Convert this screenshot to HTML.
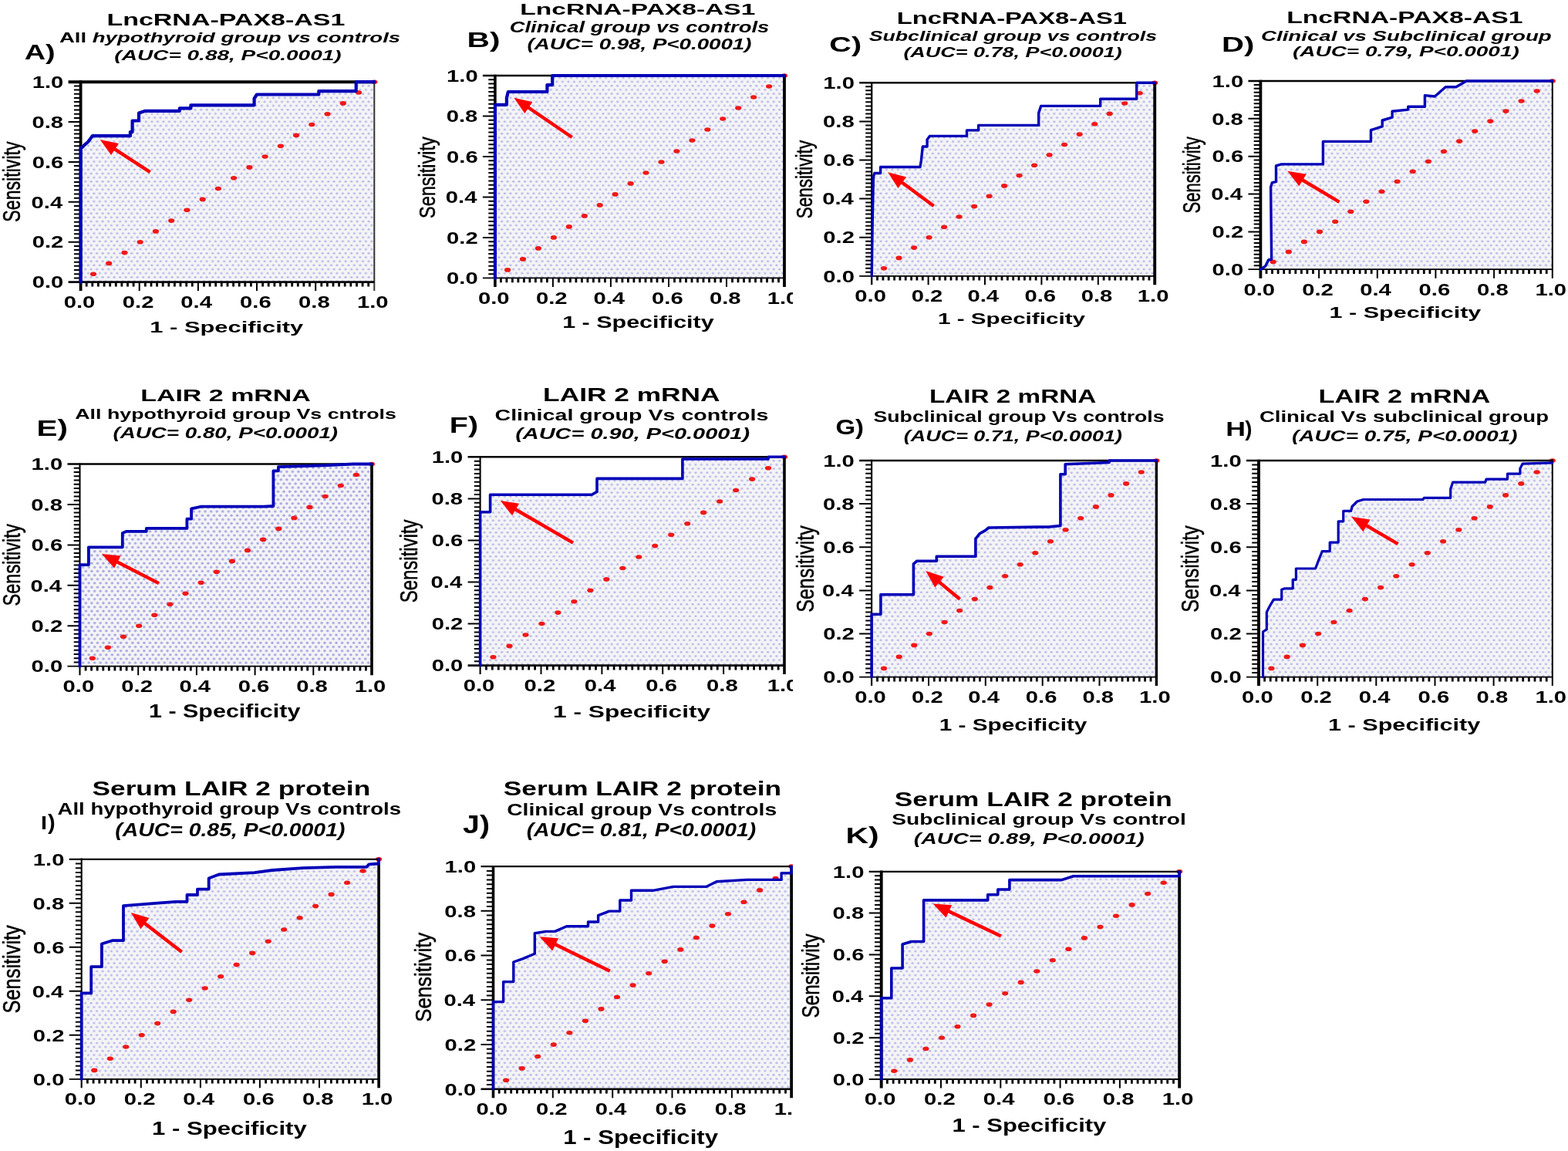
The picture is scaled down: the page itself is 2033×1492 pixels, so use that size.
<!DOCTYPE html>
<html><head><meta charset="utf-8"><title>ROC curves</title>
<style>html,body{margin:0;padding:0;background:#fff;}svg{display:block;}</style>
</head><body>
<svg xmlns="http://www.w3.org/2000/svg" width="2033" height="1492" viewBox="0 0 2033 1492" font-family="Liberation Sans, Arial, sans-serif">
<defs><pattern id="dots" patternUnits="userSpaceOnUse" width="7.5" height="10.34" x="0" y="0">
<rect width="7.5" height="10.34" fill="#f4f4f5"/>
<ellipse cx="1.9" cy="2.6" rx="1.6" ry="1.45" fill="#b9b9ee"/>
<ellipse cx="5.65" cy="7.77" rx="1.6" ry="1.45" fill="#b9b9ee"/>
</pattern>
<pattern id="dots2" patternUnits="userSpaceOnUse" width="7.55" height="10.32" x="0" y="0">
<rect width="7.55" height="10.32" fill="#f4f4f6"/>
<ellipse cx="1.9" cy="2.6" rx="1.75" ry="1.6" fill="#a6a6e4"/>
<ellipse cx="5.675" cy="7.76" rx="1.75" ry="1.6" fill="#a6a6e4"/>
</pattern></defs>
<rect width="2033" height="1492" fill="#fff"/>
<g><polygon points="104.6,365.6 104.6,191.8 107.3,190.5 109.5,187.9 114.1,184.0 119.8,176.2 168.9,176.2 168.9,171.1 171.6,171.1 171.6,156.5 180.0,156.5 180.0,146.4 188.4,143.8 232.9,143.8 232.9,140.4 247.4,140.4 247.4,136.3 329.6,136.3 329.6,127.7 333.0,122.5 413.3,122.5 413.3,118.1 461.7,118.1 461.7,106.2 485.3,106.2 485.3,365.6 104.6,365.6" fill="url(#dots)"/><ellipse cx="485.3" cy="106.2" rx="4.1" ry="2.8" fill="#f01818"/><ellipse cx="465.1" cy="120.0" rx="4.1" ry="2.8" fill="#f01818"/><ellipse cx="444.8" cy="133.9" rx="4.1" ry="2.8" fill="#f01818"/><ellipse cx="424.6" cy="147.7" rx="4.1" ry="2.8" fill="#f01818"/><ellipse cx="404.3" cy="161.5" rx="4.1" ry="2.8" fill="#f01818"/><ellipse cx="384.1" cy="175.4" rx="4.1" ry="2.8" fill="#f01818"/><ellipse cx="363.9" cy="189.2" rx="4.1" ry="2.8" fill="#f01818"/><ellipse cx="343.6" cy="203.0" rx="4.1" ry="2.8" fill="#f01818"/><ellipse cx="323.4" cy="216.9" rx="4.1" ry="2.8" fill="#f01818"/><ellipse cx="303.1" cy="230.7" rx="4.1" ry="2.8" fill="#f01818"/><ellipse cx="282.9" cy="244.5" rx="4.1" ry="2.8" fill="#f01818"/><ellipse cx="262.7" cy="258.4" rx="4.1" ry="2.8" fill="#f01818"/><ellipse cx="242.4" cy="272.2" rx="4.1" ry="2.8" fill="#f01818"/><ellipse cx="222.2" cy="286.1" rx="4.1" ry="2.8" fill="#f01818"/><ellipse cx="201.9" cy="299.9" rx="4.1" ry="2.8" fill="#f01818"/><ellipse cx="181.7" cy="313.7" rx="4.1" ry="2.8" fill="#f01818"/><ellipse cx="161.5" cy="327.6" rx="4.1" ry="2.8" fill="#f01818"/><ellipse cx="141.2" cy="341.4" rx="4.1" ry="2.8" fill="#f01818"/><ellipse cx="121.0" cy="355.2" rx="4.1" ry="2.8" fill="#f01818"/><line x1="88.6" y1="106.2" x2="486.3" y2="106.2" stroke="#000" stroke-width="4.0"/><line x1="485.3" y1="104.2" x2="485.3" y2="377.1" stroke="#333" stroke-width="2.0"/><line x1="104.6" y1="104.2" x2="104.6" y2="377.1" stroke="#000" stroke-width="3.8"/><line x1="88.6" y1="365.6" x2="485.3" y2="365.6" stroke="#000" stroke-width="2.6"/><path d="M104.6 360.4H95.9M104.6 355.2H95.9M104.6 350.0H95.9M104.6 344.8H95.9M104.6 339.7H95.9M104.6 334.5H95.9M104.6 329.3H95.9M104.6 324.1H95.9M104.6 318.9H95.9M104.6 308.5H95.9M104.6 303.3H95.9M104.6 298.2H95.9M104.6 293.0H95.9M104.6 287.8H95.9M104.6 282.6H95.9M104.6 277.4H95.9M104.6 272.2H95.9M104.6 267.0H95.9M104.6 256.7H95.9M104.6 251.5H95.9M104.6 246.3H95.9M104.6 241.1H95.9M104.6 235.9H95.9M104.6 230.7H95.9M104.6 225.5H95.9M104.6 220.3H95.9M104.6 215.1H95.9M104.6 204.8H95.9M104.6 199.6H95.9M104.6 194.4H95.9M104.6 189.2H95.9M104.6 184.0H95.9M104.6 178.8H95.9M104.6 173.6H95.9M104.6 168.5H95.9M104.6 163.3H95.9M104.6 152.9H95.9M104.6 147.7H95.9M104.6 142.5H95.9M104.6 137.3H95.9M104.6 132.1H95.9M104.6 127.0H95.9M104.6 121.8H95.9M104.6 116.6H95.9M104.6 111.4H95.9M104.6 313.7H88.6M180.7 365.6V377.1M104.6 261.8H88.6M256.9 365.6V377.1M104.6 210.0H88.6M333.0 365.6V377.1M104.6 158.1H88.6M409.2 365.6V377.1" stroke="#000" stroke-width="2.0" fill="none"/><path d="M112.2 365.6V371.4M119.8 365.6V371.4M127.4 365.6V371.4M135.1 365.6V371.4M142.7 365.6V371.4M150.3 365.6V371.4M157.9 365.6V371.4M165.5 365.6V371.4M173.1 365.6V371.4M188.4 365.6V371.4M196.0 365.6V371.4M203.6 365.6V371.4M211.2 365.6V371.4M218.8 365.6V371.4M226.4 365.6V371.4M234.0 365.6V371.4M241.7 365.6V371.4M249.3 365.6V371.4M264.5 365.6V371.4M272.1 365.6V371.4M279.7 365.6V371.4M287.3 365.6V371.4M295.0 365.6V371.4M302.6 365.6V371.4M310.2 365.6V371.4M317.8 365.6V371.4M325.4 365.6V371.4M340.6 365.6V371.4M348.2 365.6V371.4M355.9 365.6V371.4M363.5 365.6V371.4M371.1 365.6V371.4M378.7 365.6V371.4M386.3 365.6V371.4M393.9 365.6V371.4M401.5 365.6V371.4M416.8 365.6V371.4M424.4 365.6V371.4M432.0 365.6V371.4M439.6 365.6V371.4M447.2 365.6V371.4M454.8 365.6V371.4M462.5 365.6V371.4M470.1 365.6V371.4M477.7 365.6V371.4" stroke="#000" stroke-width="2.8" fill="none"/><polyline points="104.6,365.6 104.6,191.8 107.3,190.5 109.5,187.9 114.1,184.0 119.8,176.2 168.9,176.2 168.9,171.1 171.6,171.1 171.6,156.5 180.0,156.5 180.0,146.4 188.4,143.8 232.9,143.8 232.9,140.4 247.4,140.4 247.4,136.3 329.6,136.3 329.6,127.7 333.0,122.5 413.3,122.5 413.3,118.1 461.7,118.1 461.7,106.2 485.3,106.2" fill="none" stroke="#0000b8" stroke-width="4.2" stroke-linejoin="round" stroke-linecap="round"/><line x1="194.6" y1="223.2" x2="147.3" y2="192.4" stroke="#ff0000" stroke-width="4.4"/><polygon points="129.7,181.0 153.9,186.0 144.1,201.1" fill="#ff0000"/><text transform="translate(41.71 373.32) scale(1.3600 1)" font-size="21.50" font-weight="bold">0.0</text><text transform="translate(82.67 399.05) scale(1.3600 1)" font-size="21.50" font-weight="bold">0.0</text><text transform="translate(41.71 321.44) scale(1.3600 1)" font-size="21.50" font-weight="bold">0.2</text><text transform="translate(158.81 399.05) scale(1.3600 1)" font-size="21.50" font-weight="bold">0.2</text><text transform="translate(40.54 269.56) scale(1.3600 1)" font-size="21.50" font-weight="bold">0.4</text><text transform="translate(234.36 399.05) scale(1.3600 1)" font-size="21.50" font-weight="bold">0.4</text><text transform="translate(41.71 217.69) scale(1.3600 1)" font-size="21.50" font-weight="bold">0.6</text><text transform="translate(311.09 399.05) scale(1.3600 1)" font-size="21.50" font-weight="bold">0.6</text><text transform="translate(41.42 165.80) scale(1.3600 1)" font-size="21.50" font-weight="bold">0.8</text><text transform="translate(387.08 399.05) scale(1.3600 1)" font-size="21.50" font-weight="bold">0.8</text><text transform="translate(41.71 113.92) scale(1.3600 1)" font-size="21.50" font-weight="bold">1.0</text><text transform="translate(462.93 399.05) scale(1.3600 1)" font-size="21.50" font-weight="bold">1.0</text><text transform="translate(138.46 32.50) scale(1.5987 1)" font-size="21.25"><tspan font-weight="bold" font-style="normal">LncRNA-PAX8-AS1</tspan></text><text transform="translate(76.95 54.90) scale(1.4807 1)" font-size="18.61"><tspan font-weight="bold" font-style="normal">All </tspan><tspan font-weight="bold" font-style="italic">hypothyroid group vs controls</tspan></text><text transform="translate(148.36 78.30) scale(1.4615 1)" font-size="19.17"><tspan font-weight="bold" font-style="italic">(AUC= 0.88, P&lt;0.0001)</tspan></text><text transform="translate(31.74 77.30) scale(1.4100 1)" font-size="26.81"><tspan font-weight="bold" font-style="normal">A)</tspan></text><text transform="translate(26.20 287.63) rotate(-90) scale(0.7479 1)" font-size="30.96" font-weight="normal" stroke="#000" stroke-width="0.55">Sensitivity</text><text transform="translate(194.35 430.60) scale(1.5217 1)" font-size="20.28"><tspan font-weight="bold" font-style="normal">1 - Specificity</tspan></text></g>
<g><polygon points="641.9,360.4 641.9,135.8 656.9,135.8 656.9,126.9 658.8,119.0 709.4,119.0 709.4,110.1 716.2,110.1 716.2,98.0 1017.0,98.0 1017.0,360.4 641.9,360.4" fill="url(#dots)"/><ellipse cx="1017.0" cy="98.0" rx="4.1" ry="2.8" fill="#f01818"/><ellipse cx="997.1" cy="112.0" rx="4.1" ry="2.8" fill="#f01818"/><ellipse cx="977.1" cy="126.0" rx="4.1" ry="2.8" fill="#f01818"/><ellipse cx="957.2" cy="140.0" rx="4.1" ry="2.8" fill="#f01818"/><ellipse cx="937.2" cy="154.0" rx="4.1" ry="2.8" fill="#f01818"/><ellipse cx="917.3" cy="168.0" rx="4.1" ry="2.8" fill="#f01818"/><ellipse cx="897.4" cy="182.0" rx="4.1" ry="2.8" fill="#f01818"/><ellipse cx="877.4" cy="196.0" rx="4.1" ry="2.8" fill="#f01818"/><ellipse cx="857.5" cy="210.0" rx="4.1" ry="2.8" fill="#f01818"/><ellipse cx="837.5" cy="224.0" rx="4.1" ry="2.8" fill="#f01818"/><ellipse cx="817.6" cy="237.9" rx="4.1" ry="2.8" fill="#f01818"/><ellipse cx="797.6" cy="251.9" rx="4.1" ry="2.8" fill="#f01818"/><ellipse cx="777.7" cy="265.9" rx="4.1" ry="2.8" fill="#f01818"/><ellipse cx="757.8" cy="279.9" rx="4.1" ry="2.8" fill="#f01818"/><ellipse cx="737.8" cy="293.9" rx="4.1" ry="2.8" fill="#f01818"/><ellipse cx="717.9" cy="307.9" rx="4.1" ry="2.8" fill="#f01818"/><ellipse cx="697.9" cy="321.9" rx="4.1" ry="2.8" fill="#f01818"/><ellipse cx="678.0" cy="335.9" rx="4.1" ry="2.8" fill="#f01818"/><ellipse cx="658.1" cy="349.9" rx="4.1" ry="2.8" fill="#f01818"/><line x1="625.9" y1="98.0" x2="1018.9" y2="98.0" stroke="#000" stroke-width="2.3"/><line x1="1017.0" y1="96.8" x2="1017.0" y2="371.9" stroke="#000" stroke-width="3.8"/><line x1="641.9" y1="96.8" x2="641.9" y2="371.9" stroke="#000" stroke-width="3.6"/><line x1="625.9" y1="360.4" x2="1017.0" y2="360.4" stroke="#000" stroke-width="1.8"/><path d="M641.9 355.2H633.3M641.9 349.9H633.3M641.9 344.7H633.3M641.9 339.4H633.3M641.9 334.2H633.3M641.9 328.9H633.3M641.9 323.7H633.3M641.9 318.4H633.3M641.9 313.2H633.3M641.9 302.7H633.3M641.9 297.4H633.3M641.9 292.2H633.3M641.9 286.9H633.3M641.9 281.7H633.3M641.9 276.4H633.3M641.9 271.2H633.3M641.9 265.9H633.3M641.9 260.7H633.3M641.9 250.2H633.3M641.9 244.9H633.3M641.9 239.7H633.3M641.9 234.4H633.3M641.9 229.2H633.3M641.9 224.0H633.3M641.9 218.7H633.3M641.9 213.5H633.3M641.9 208.2H633.3M641.9 197.7H633.3M641.9 192.5H633.3M641.9 187.2H633.3M641.9 182.0H633.3M641.9 176.7H633.3M641.9 171.5H633.3M641.9 166.2H633.3M641.9 161.0H633.3M641.9 155.7H633.3M641.9 145.2H633.3M641.9 140.0H633.3M641.9 134.7H633.3M641.9 129.5H633.3M641.9 124.2H633.3M641.9 119.0H633.3M641.9 113.7H633.3M641.9 108.5H633.3M641.9 103.2H633.3M641.9 307.9H625.9M716.9 360.4V371.9M641.9 255.4H625.9M791.9 360.4V371.9M641.9 203.0H625.9M867.0 360.4V371.9M641.9 150.5H625.9M942.0 360.4V371.9" stroke="#000" stroke-width="2.0" fill="none"/><path d="M649.4 360.4V366.2M656.9 360.4V366.2M664.4 360.4V366.2M671.9 360.4V366.2M679.4 360.4V366.2M686.9 360.4V366.2M694.4 360.4V366.2M701.9 360.4V366.2M709.4 360.4V366.2M724.4 360.4V366.2M731.9 360.4V366.2M739.4 360.4V366.2M746.9 360.4V366.2M754.4 360.4V366.2M761.9 360.4V366.2M769.4 360.4V366.2M776.9 360.4V366.2M784.4 360.4V366.2M799.4 360.4V366.2M806.9 360.4V366.2M814.4 360.4V366.2M821.9 360.4V366.2M829.5 360.4V366.2M837.0 360.4V366.2M844.5 360.4V366.2M852.0 360.4V366.2M859.5 360.4V366.2M874.5 360.4V366.2M882.0 360.4V366.2M889.5 360.4V366.2M897.0 360.4V366.2M904.5 360.4V366.2M912.0 360.4V366.2M919.5 360.4V366.2M927.0 360.4V366.2M934.5 360.4V366.2M949.5 360.4V366.2M957.0 360.4V366.2M964.5 360.4V366.2M972.0 360.4V366.2M979.5 360.4V366.2M987.0 360.4V366.2M994.5 360.4V366.2M1002.0 360.4V366.2M1009.5 360.4V366.2" stroke="#000" stroke-width="2.8" fill="none"/><polyline points="641.9,360.4 641.9,135.8 656.9,135.8 656.9,126.9 658.8,119.0 709.4,119.0 709.4,110.1 716.2,110.1 716.2,98.0 1017.0,98.0" fill="none" stroke="#0000b8" stroke-width="4.2" stroke-linejoin="round" stroke-linecap="round"/><line x1="741.7" y1="178.0" x2="683.7" y2="138.5" stroke="#ff0000" stroke-width="4.4"/><polygon points="666.3,126.7 690.4,132.2 680.3,147.1" fill="#ff0000"/><text transform="translate(579.01 368.12) scale(1.3600 1)" font-size="21.50" font-weight="bold">0.0</text><text transform="translate(619.97 393.85) scale(1.3600 1)" font-size="21.50" font-weight="bold">0.0</text><text transform="translate(579.01 315.64) scale(1.3600 1)" font-size="21.50" font-weight="bold">0.2</text><text transform="translate(694.99 393.85) scale(1.3600 1)" font-size="21.50" font-weight="bold">0.2</text><text transform="translate(577.84 263.16) scale(1.3600 1)" font-size="21.50" font-weight="bold">0.4</text><text transform="translate(769.42 393.85) scale(1.3600 1)" font-size="21.50" font-weight="bold">0.4</text><text transform="translate(579.01 210.69) scale(1.3600 1)" font-size="21.50" font-weight="bold">0.6</text><text transform="translate(845.03 393.85) scale(1.3600 1)" font-size="21.50" font-weight="bold">0.6</text><text transform="translate(578.72 158.20) scale(1.3600 1)" font-size="21.50" font-weight="bold">0.8</text><text transform="translate(919.90 393.85) scale(1.3600 1)" font-size="21.50" font-weight="bold">0.8</text><text transform="translate(579.01 105.73) scale(1.3600 1)" font-size="21.50" font-weight="bold">1.0</text><text transform="translate(994.63 393.85) scale(1.3600 1)" font-size="21.50" font-weight="bold">1.0</text><text transform="translate(674.29 19.10) scale(1.6432 1)" font-size="20.42"><tspan font-weight="bold" font-style="normal">LncRNA-PAX8-AS1</tspan></text><text transform="translate(660.70 42.30) scale(1.4199 1)" font-size="19.31"><tspan font-weight="bold" font-style="italic">Clinical group vs controls</tspan></text><text transform="translate(683.57 64.00) scale(1.4048 1)" font-size="19.72"><tspan font-weight="bold" font-style="italic">(AUC= 0.98, P&lt;0.0001)</tspan></text><text transform="translate(605.56 60.50) scale(1.4382 1)" font-size="28.33"><tspan font-weight="bold" font-style="normal">B)</tspan></text><text transform="translate(563.50 283.04) rotate(-90) scale(0.7855 1)" font-size="29.93" font-weight="normal" stroke="#000" stroke-width="0.55">Sensitivity</text><text transform="translate(729.17 425.20) scale(1.3817 1)" font-size="22.08"><tspan font-weight="bold" font-style="normal">1 - Specificity</tspan></text></g>
<rect x="1028" y="0" width="512" height="470" fill="#fff"/>
<g><polygon points="1130.2,357.8 1131.3,282.7 1132.4,229.0 1133.9,224.5 1141.6,224.5 1141.6,216.5 1193.0,216.5 1194.4,208.0 1196.3,190.0 1202.1,190.0 1202.1,180.9 1205.4,176.4 1253.5,176.4 1253.5,168.9 1268.6,168.9 1268.6,162.4 1346.7,162.4 1346.7,146.4 1349.7,137.4 1426.7,137.4 1426.7,128.3 1473.7,128.3 1473.7,107.3 1497.2,107.3 1497.2,357.8 1130.2,357.8" fill="url(#dots)"/><ellipse cx="1497.2" cy="107.3" rx="4.1" ry="2.8" fill="#f01818"/><ellipse cx="1477.7" cy="120.7" rx="4.1" ry="2.8" fill="#f01818"/><ellipse cx="1458.2" cy="134.0" rx="4.1" ry="2.8" fill="#f01818"/><ellipse cx="1438.7" cy="147.4" rx="4.1" ry="2.8" fill="#f01818"/><ellipse cx="1419.2" cy="160.7" rx="4.1" ry="2.8" fill="#f01818"/><ellipse cx="1399.7" cy="174.1" rx="4.1" ry="2.8" fill="#f01818"/><ellipse cx="1380.1" cy="187.5" rx="4.1" ry="2.8" fill="#f01818"/><ellipse cx="1360.6" cy="200.8" rx="4.1" ry="2.8" fill="#f01818"/><ellipse cx="1341.1" cy="214.2" rx="4.1" ry="2.8" fill="#f01818"/><ellipse cx="1321.6" cy="227.5" rx="4.1" ry="2.8" fill="#f01818"/><ellipse cx="1302.1" cy="240.9" rx="4.1" ry="2.8" fill="#f01818"/><ellipse cx="1282.6" cy="254.3" rx="4.1" ry="2.8" fill="#f01818"/><ellipse cx="1263.1" cy="267.6" rx="4.1" ry="2.8" fill="#f01818"/><ellipse cx="1243.6" cy="281.0" rx="4.1" ry="2.8" fill="#f01818"/><ellipse cx="1224.1" cy="294.3" rx="4.1" ry="2.8" fill="#f01818"/><ellipse cx="1204.6" cy="307.7" rx="4.1" ry="2.8" fill="#f01818"/><ellipse cx="1185.1" cy="321.1" rx="4.1" ry="2.8" fill="#f01818"/><ellipse cx="1165.5" cy="334.4" rx="4.1" ry="2.8" fill="#f01818"/><ellipse cx="1146.0" cy="347.8" rx="4.1" ry="2.8" fill="#f01818"/><line x1="1114.2" y1="107.3" x2="1499.2" y2="107.3" stroke="#000" stroke-width="2.5"/><line x1="1497.2" y1="106.0" x2="1497.2" y2="369.3" stroke="#000" stroke-width="3.9"/><line x1="1130.2" y1="106.0" x2="1130.2" y2="369.3" stroke="#000" stroke-width="2.3"/><line x1="1114.2" y1="357.8" x2="1497.2" y2="357.8" stroke="#000" stroke-width="1.8"/><path d="M1130.2 352.8H1122.2M1130.2 347.8H1122.2M1130.2 342.8H1122.2M1130.2 337.8H1122.2M1130.2 332.8H1122.2M1130.2 327.7H1122.2M1130.2 322.7H1122.2M1130.2 317.7H1122.2M1130.2 312.7H1122.2M1130.2 302.7H1122.2M1130.2 297.7H1122.2M1130.2 292.7H1122.2M1130.2 287.7H1122.2M1130.2 282.7H1122.2M1130.2 277.6H1122.2M1130.2 272.6H1122.2M1130.2 267.6H1122.2M1130.2 262.6H1122.2M1130.2 252.6H1122.2M1130.2 247.6H1122.2M1130.2 242.6H1122.2M1130.2 237.6H1122.2M1130.2 232.6H1122.2M1130.2 227.5H1122.2M1130.2 222.5H1122.2M1130.2 217.5H1122.2M1130.2 212.5H1122.2M1130.2 202.5H1122.2M1130.2 197.5H1122.2M1130.2 192.5H1122.2M1130.2 187.5H1122.2M1130.2 182.5H1122.2M1130.2 177.4H1122.2M1130.2 172.4H1122.2M1130.2 167.4H1122.2M1130.2 162.4H1122.2M1130.2 152.4H1122.2M1130.2 147.4H1122.2M1130.2 142.4H1122.2M1130.2 137.4H1122.2M1130.2 132.3H1122.2M1130.2 127.3H1122.2M1130.2 122.3H1122.2M1130.2 117.3H1122.2M1130.2 112.3H1122.2M1130.2 307.7H1114.2M1203.6 357.8V369.3M1130.2 257.6H1114.2M1277.0 357.8V369.3M1130.2 207.5H1114.2M1350.4 357.8V369.3M1130.2 157.4H1114.2M1423.8 357.8V369.3" stroke="#000" stroke-width="2.0" fill="none"/><path d="M1137.5 357.8V363.6M1144.9 357.8V363.6M1152.2 357.8V363.6M1159.6 357.8V363.6M1166.9 357.8V363.6M1174.2 357.8V363.6M1181.6 357.8V363.6M1188.9 357.8V363.6M1196.3 357.8V363.6M1210.9 357.8V363.6M1218.3 357.8V363.6M1225.6 357.8V363.6M1233.0 357.8V363.6M1240.3 357.8V363.6M1247.6 357.8V363.6M1255.0 357.8V363.6M1262.3 357.8V363.6M1269.7 357.8V363.6M1284.3 357.8V363.6M1291.7 357.8V363.6M1299.0 357.8V363.6M1306.4 357.8V363.6M1313.7 357.8V363.6M1321.0 357.8V363.6M1328.4 357.8V363.6M1335.7 357.8V363.6M1343.1 357.8V363.6M1357.7 357.8V363.6M1365.1 357.8V363.6M1372.4 357.8V363.6M1379.8 357.8V363.6M1387.1 357.8V363.6M1394.4 357.8V363.6M1401.8 357.8V363.6M1409.1 357.8V363.6M1416.5 357.8V363.6M1431.1 357.8V363.6M1438.5 357.8V363.6M1445.8 357.8V363.6M1453.2 357.8V363.6M1460.5 357.8V363.6M1467.8 357.8V363.6M1475.2 357.8V363.6M1482.5 357.8V363.6M1489.9 357.8V363.6" stroke="#000" stroke-width="2.8" fill="none"/><polyline points="1130.2,357.8 1131.3,282.7 1132.4,229.0 1133.9,224.5 1141.6,224.5 1141.6,216.5 1193.0,216.5 1194.4,208.0 1196.3,190.0 1202.1,190.0 1202.1,180.9 1205.4,176.4 1253.5,176.4 1253.5,168.9 1268.6,168.9 1268.6,162.4 1346.7,162.4 1346.7,146.4 1349.7,137.4 1426.7,137.4 1426.7,128.3 1473.7,128.3 1473.7,107.3 1497.2,107.3" fill="none" stroke="#0000b8" stroke-width="3.4" stroke-linejoin="round" stroke-linecap="round"/><line x1="1210.6" y1="266.9" x2="1168.1" y2="235.6" stroke="#ff0000" stroke-width="4.4"/><polygon points="1151.2,223.2 1175.1,229.6 1164.4,244.1" fill="#ff0000"/><text transform="translate(1067.31 365.52) scale(1.3600 1)" font-size="21.50" font-weight="bold">0.0</text><text transform="translate(1108.27 391.25) scale(1.3600 1)" font-size="21.50" font-weight="bold">0.0</text><text transform="translate(1067.31 315.42) scale(1.3600 1)" font-size="21.50" font-weight="bold">0.2</text><text transform="translate(1181.67 391.25) scale(1.3600 1)" font-size="21.50" font-weight="bold">0.2</text><text transform="translate(1066.14 265.32) scale(1.3600 1)" font-size="21.50" font-weight="bold">0.4</text><text transform="translate(1254.48 391.25) scale(1.3600 1)" font-size="21.50" font-weight="bold">0.4</text><text transform="translate(1067.31 215.23) scale(1.3600 1)" font-size="21.50" font-weight="bold">0.6</text><text transform="translate(1328.47 391.25) scale(1.3600 1)" font-size="21.50" font-weight="bold">0.6</text><text transform="translate(1067.02 165.12) scale(1.3600 1)" font-size="21.50" font-weight="bold">0.8</text><text transform="translate(1401.72 391.25) scale(1.3600 1)" font-size="21.50" font-weight="bold">0.8</text><text transform="translate(1067.31 115.03) scale(1.3600 1)" font-size="21.50" font-weight="bold">1.0</text><text transform="translate(1474.83 391.25) scale(1.3600 1)" font-size="21.50" font-weight="bold">1.0</text><text transform="translate(1162.73 31.00) scale(1.4768 1)" font-size="22.22"><tspan font-weight="bold" font-style="normal">LncRNA-PAX8-AS1</tspan></text><text transform="translate(1126.73 53.20) scale(1.4772 1)" font-size="18.06"><tspan font-weight="bold" font-style="italic">Subclinical group vs controls</tspan></text><text transform="translate(1171.39 74.30) scale(1.4501 1)" font-size="18.61"><tspan font-weight="bold" font-style="italic">(AUC= 0.78, P&lt;0.0001)</tspan></text><text transform="translate(1075.32 66.60) scale(1.4548 1)" font-size="27.22"><tspan font-weight="bold" font-style="normal">C)</tspan></text><text transform="translate(1053.10 283.20) rotate(-90) scale(0.7684 1)" font-size="29.32" font-weight="normal" stroke="#000" stroke-width="0.55">Sensitivity</text><text transform="translate(1216.02 420.20) scale(1.4819 1)" font-size="20.00"><tspan font-weight="bold" font-style="normal">1 - Specificity</tspan></text></g>
<g><polygon points="1634.4,349.2 1640.8,344.8 1644.6,337.0 1648.6,336.0 1647.6,242.5 1649.5,236.6 1654.5,235.6 1654.5,214.9 1661.3,212.9 1715.4,212.9 1715.4,183.4 1777.4,183.4 1777.4,168.7 1792.2,163.9 1792.2,156.0 1805.1,152.1 1805.1,144.3 1825.7,142.1 1825.7,138.2 1847.4,138.2 1847.4,123.6 1860.3,125.0 1874.3,112.8 1887.9,112.8 1901.2,105.0 2012.8,105.0 2012.8,349.2 1634.4,349.2" fill="url(#dots)"/><ellipse cx="2012.8" cy="105.0" rx="4.1" ry="2.8" fill="#f01818"/><ellipse cx="1992.7" cy="118.0" rx="4.1" ry="2.8" fill="#f01818"/><ellipse cx="1972.6" cy="131.0" rx="4.1" ry="2.8" fill="#f01818"/><ellipse cx="1952.4" cy="144.1" rx="4.1" ry="2.8" fill="#f01818"/><ellipse cx="1932.3" cy="157.1" rx="4.1" ry="2.8" fill="#f01818"/><ellipse cx="1912.2" cy="170.1" rx="4.1" ry="2.8" fill="#f01818"/><ellipse cx="1892.1" cy="183.1" rx="4.1" ry="2.8" fill="#f01818"/><ellipse cx="1872.0" cy="196.2" rx="4.1" ry="2.8" fill="#f01818"/><ellipse cx="1851.9" cy="209.2" rx="4.1" ry="2.8" fill="#f01818"/><ellipse cx="1831.7" cy="222.2" rx="4.1" ry="2.8" fill="#f01818"/><ellipse cx="1811.6" cy="235.2" rx="4.1" ry="2.8" fill="#f01818"/><ellipse cx="1791.5" cy="248.3" rx="4.1" ry="2.8" fill="#f01818"/><ellipse cx="1771.4" cy="261.3" rx="4.1" ry="2.8" fill="#f01818"/><ellipse cx="1751.3" cy="274.3" rx="4.1" ry="2.8" fill="#f01818"/><ellipse cx="1731.2" cy="287.3" rx="4.1" ry="2.8" fill="#f01818"/><ellipse cx="1711.0" cy="300.4" rx="4.1" ry="2.8" fill="#f01818"/><ellipse cx="1690.9" cy="313.4" rx="4.1" ry="2.8" fill="#f01818"/><ellipse cx="1670.8" cy="326.4" rx="4.1" ry="2.8" fill="#f01818"/><ellipse cx="1650.7" cy="339.4" rx="4.1" ry="2.8" fill="#f01818"/><line x1="1618.4" y1="105.0" x2="2013.8" y2="105.0" stroke="#000" stroke-width="2.5"/><line x1="2012.8" y1="103.8" x2="2012.8" y2="360.7" stroke="#000" stroke-width="2.0"/><line x1="1634.4" y1="103.8" x2="1634.4" y2="360.7" stroke="#000" stroke-width="3.8"/><line x1="1618.4" y1="349.2" x2="2012.8" y2="349.2" stroke="#000" stroke-width="1.8"/><path d="M1634.4 344.3H1625.7M1634.4 339.4H1625.7M1634.4 334.5H1625.7M1634.4 329.7H1625.7M1634.4 324.8H1625.7M1634.4 319.9H1625.7M1634.4 315.0H1625.7M1634.4 310.1H1625.7M1634.4 305.2H1625.7M1634.4 295.5H1625.7M1634.4 290.6H1625.7M1634.4 285.7H1625.7M1634.4 280.8H1625.7M1634.4 275.9H1625.7M1634.4 271.1H1625.7M1634.4 266.2H1625.7M1634.4 261.3H1625.7M1634.4 256.4H1625.7M1634.4 246.6H1625.7M1634.4 241.8H1625.7M1634.4 236.9H1625.7M1634.4 232.0H1625.7M1634.4 227.1H1625.7M1634.4 222.2H1625.7M1634.4 217.3H1625.7M1634.4 212.4H1625.7M1634.4 207.6H1625.7M1634.4 197.8H1625.7M1634.4 192.9H1625.7M1634.4 188.0H1625.7M1634.4 183.1H1625.7M1634.4 178.3H1625.7M1634.4 173.4H1625.7M1634.4 168.5H1625.7M1634.4 163.6H1625.7M1634.4 158.7H1625.7M1634.4 149.0H1625.7M1634.4 144.1H1625.7M1634.4 139.2H1625.7M1634.4 134.3H1625.7M1634.4 129.4H1625.7M1634.4 124.5H1625.7M1634.4 119.7H1625.7M1634.4 114.8H1625.7M1634.4 109.9H1625.7M1634.4 300.4H1618.4M1710.1 349.2V360.7M1634.4 251.5H1618.4M1785.8 349.2V360.7M1634.4 202.7H1618.4M1861.4 349.2V360.7M1634.4 153.8H1618.4M1937.1 349.2V360.7" stroke="#000" stroke-width="2.0" fill="none"/><path d="M1642.0 349.2V355.0M1649.5 349.2V355.0M1657.1 349.2V355.0M1664.7 349.2V355.0M1672.2 349.2V355.0M1679.8 349.2V355.0M1687.4 349.2V355.0M1694.9 349.2V355.0M1702.5 349.2V355.0M1717.6 349.2V355.0M1725.2 349.2V355.0M1732.8 349.2V355.0M1740.4 349.2V355.0M1747.9 349.2V355.0M1755.5 349.2V355.0M1763.1 349.2V355.0M1770.6 349.2V355.0M1778.2 349.2V355.0M1793.3 349.2V355.0M1800.9 349.2V355.0M1808.5 349.2V355.0M1816.0 349.2V355.0M1823.6 349.2V355.0M1831.2 349.2V355.0M1838.7 349.2V355.0M1846.3 349.2V355.0M1853.9 349.2V355.0M1869.0 349.2V355.0M1876.6 349.2V355.0M1884.1 349.2V355.0M1891.7 349.2V355.0M1899.3 349.2V355.0M1906.8 349.2V355.0M1914.4 349.2V355.0M1922.0 349.2V355.0M1929.6 349.2V355.0M1944.7 349.2V355.0M1952.3 349.2V355.0M1959.8 349.2V355.0M1967.4 349.2V355.0M1975.0 349.2V355.0M1982.5 349.2V355.0M1990.1 349.2V355.0M1997.7 349.2V355.0M2005.2 349.2V355.0" stroke="#000" stroke-width="2.8" fill="none"/><polyline points="1634.4,349.2 1640.8,344.8 1644.6,337.0 1648.6,336.0 1647.6,242.5 1649.5,236.6 1654.5,235.6 1654.5,214.9 1661.3,212.9 1715.4,212.9 1715.4,183.4 1777.4,183.4 1777.4,168.7 1792.2,163.9 1792.2,156.0 1805.1,152.1 1805.1,144.3 1825.7,142.1 1825.7,138.2 1847.4,138.2 1847.4,123.6 1860.3,125.0 1874.3,112.8 1887.9,112.8 1901.2,105.0 2012.8,105.0" fill="none" stroke="#0000b8" stroke-width="3.4" stroke-linejoin="round" stroke-linecap="round"/><line x1="1736.5" y1="261.8" x2="1687.3" y2="232.5" stroke="#ff0000" stroke-width="4.4"/><polygon points="1669.3,221.7 1693.7,225.8 1684.4,241.2" fill="#ff0000"/><text transform="translate(1571.51 356.92) scale(1.3600 1)" font-size="21.50" font-weight="bold">0.0</text><text transform="translate(1612.47 382.65) scale(1.3600 1)" font-size="21.50" font-weight="bold">0.0</text><text transform="translate(1571.51 308.08) scale(1.3600 1)" font-size="21.50" font-weight="bold">0.2</text><text transform="translate(1688.15 382.65) scale(1.3600 1)" font-size="21.50" font-weight="bold">0.2</text><text transform="translate(1570.34 259.24) scale(1.3600 1)" font-size="21.50" font-weight="bold">0.4</text><text transform="translate(1763.24 382.65) scale(1.3600 1)" font-size="21.50" font-weight="bold">0.4</text><text transform="translate(1571.51 210.41) scale(1.3600 1)" font-size="21.50" font-weight="bold">0.6</text><text transform="translate(1839.51 382.65) scale(1.3600 1)" font-size="21.50" font-weight="bold">0.6</text><text transform="translate(1571.22 161.56) scale(1.3600 1)" font-size="21.50" font-weight="bold">0.8</text><text transform="translate(1915.04 382.65) scale(1.3600 1)" font-size="21.50" font-weight="bold">0.8</text><text transform="translate(1571.51 112.73) scale(1.3600 1)" font-size="21.50" font-weight="bold">1.0</text><text transform="translate(1990.43 382.65) scale(1.3600 1)" font-size="21.50" font-weight="bold">1.0</text><text transform="translate(1668.18 30.10) scale(1.5359 1)" font-size="21.94"><tspan font-weight="bold" font-style="normal">LncRNA-PAX8-AS1</tspan></text><text transform="translate(1634.99 52.60) scale(1.5693 1)" font-size="17.64"><tspan font-weight="bold" font-style="italic">Clinical vs Subclinical group</tspan></text><text transform="translate(1675.96 72.50) scale(1.5864 1)" font-size="17.64"><tspan font-weight="bold" font-style="italic">(AUC= 0.79, P&lt;0.0001)</tspan></text><text transform="translate(1583.99 67.20) scale(1.4515 1)" font-size="27.64"><tspan font-weight="bold" font-style="normal">D)</tspan></text><text transform="translate(1555.90 276.58) rotate(-90) scale(0.7131 1)" font-size="30.96" font-weight="normal" stroke="#000" stroke-width="0.55">Sensitivity</text><text transform="translate(1723.57 411.60) scale(1.4661 1)" font-size="20.83"><tspan font-weight="bold" font-style="normal">1 - Specificity</tspan></text></g>
<g><polygon points="103.5,863.7 103.5,732.1 114.9,732.1 114.9,709.3 158.8,709.3 158.8,690.9 164.1,688.8 189.8,688.8 189.8,684.9 242.4,684.9 242.4,672.6 248.1,672.6 248.1,659.4 261.0,656.6 342.0,656.6 354.4,656.0 354.4,610.4 360.9,610.4 360.9,605.2 419.2,603.3 457.8,601.5 482.0,601.5 482.0,863.7 103.5,863.7" fill="url(#dots2)"/><ellipse cx="482.0" cy="601.5" rx="4.1" ry="2.8" fill="#f01818"/><ellipse cx="461.9" cy="615.5" rx="4.1" ry="2.8" fill="#f01818"/><ellipse cx="441.8" cy="629.5" rx="4.1" ry="2.8" fill="#f01818"/><ellipse cx="421.6" cy="643.5" rx="4.1" ry="2.8" fill="#f01818"/><ellipse cx="401.5" cy="657.4" rx="4.1" ry="2.8" fill="#f01818"/><ellipse cx="381.4" cy="671.4" rx="4.1" ry="2.8" fill="#f01818"/><ellipse cx="361.3" cy="685.4" rx="4.1" ry="2.8" fill="#f01818"/><ellipse cx="341.1" cy="699.4" rx="4.1" ry="2.8" fill="#f01818"/><ellipse cx="321.0" cy="713.4" rx="4.1" ry="2.8" fill="#f01818"/><ellipse cx="300.9" cy="727.4" rx="4.1" ry="2.8" fill="#f01818"/><ellipse cx="280.8" cy="741.3" rx="4.1" ry="2.8" fill="#f01818"/><ellipse cx="260.7" cy="755.3" rx="4.1" ry="2.8" fill="#f01818"/><ellipse cx="240.5" cy="769.3" rx="4.1" ry="2.8" fill="#f01818"/><ellipse cx="220.4" cy="783.3" rx="4.1" ry="2.8" fill="#f01818"/><ellipse cx="200.3" cy="797.3" rx="4.1" ry="2.8" fill="#f01818"/><ellipse cx="180.2" cy="811.3" rx="4.1" ry="2.8" fill="#f01818"/><ellipse cx="160.0" cy="825.2" rx="4.1" ry="2.8" fill="#f01818"/><ellipse cx="139.9" cy="839.2" rx="4.1" ry="2.8" fill="#f01818"/><ellipse cx="119.8" cy="853.2" rx="4.1" ry="2.8" fill="#f01818"/><line x1="87.5" y1="601.5" x2="483.8" y2="601.5" stroke="#000" stroke-width="2.3"/><line x1="482.0" y1="600.4" x2="482.0" y2="875.2" stroke="#000" stroke-width="3.6"/><line x1="103.5" y1="600.4" x2="103.5" y2="875.2" stroke="#000" stroke-width="2.1"/><line x1="87.5" y1="863.7" x2="482.0" y2="863.7" stroke="#000" stroke-width="1.8"/><path d="M103.5 858.5H95.7M103.5 853.2H95.7M103.5 848.0H95.7M103.5 842.7H95.7M103.5 837.5H95.7M103.5 832.2H95.7M103.5 827.0H95.7M103.5 821.7H95.7M103.5 816.5H95.7M103.5 806.0H95.7M103.5 800.8H95.7M103.5 795.5H95.7M103.5 790.3H95.7M103.5 785.0H95.7M103.5 779.8H95.7M103.5 774.6H95.7M103.5 769.3H95.7M103.5 764.1H95.7M103.5 753.6H95.7M103.5 748.3H95.7M103.5 743.1H95.7M103.5 737.8H95.7M103.5 732.6H95.7M103.5 727.4H95.7M103.5 722.1H95.7M103.5 716.9H95.7M103.5 711.6H95.7M103.5 701.1H95.7M103.5 695.9H95.7M103.5 690.6H95.7M103.5 685.4H95.7M103.5 680.2H95.7M103.5 674.9H95.7M103.5 669.7H95.7M103.5 664.4H95.7M103.5 659.2H95.7M103.5 648.7H95.7M103.5 643.5H95.7M103.5 638.2H95.7M103.5 633.0H95.7M103.5 627.7H95.7M103.5 622.5H95.7M103.5 617.2H95.7M103.5 612.0H95.7M103.5 606.7H95.7M103.5 811.3H87.5M179.2 863.7V875.2M103.5 758.8H87.5M254.9 863.7V875.2M103.5 706.4H87.5M330.6 863.7V875.2M103.5 653.9H87.5M406.3 863.7V875.2" stroke="#000" stroke-width="2.0" fill="none"/><path d="M111.1 863.7V869.5M118.6 863.7V869.5M126.2 863.7V869.5M133.8 863.7V869.5M141.3 863.7V869.5M148.9 863.7V869.5M156.5 863.7V869.5M164.1 863.7V869.5M171.6 863.7V869.5M186.8 863.7V869.5M194.3 863.7V869.5M201.9 863.7V869.5M209.5 863.7V869.5M217.1 863.7V869.5M224.6 863.7V869.5M232.2 863.7V869.5M239.8 863.7V869.5M247.3 863.7V869.5M262.5 863.7V869.5M270.0 863.7V869.5M277.6 863.7V869.5M285.2 863.7V869.5M292.8 863.7V869.5M300.3 863.7V869.5M307.9 863.7V869.5M315.5 863.7V869.5M323.0 863.7V869.5M338.2 863.7V869.5M345.7 863.7V869.5M353.3 863.7V869.5M360.9 863.7V869.5M368.4 863.7V869.5M376.0 863.7V869.5M383.6 863.7V869.5M391.2 863.7V869.5M398.7 863.7V869.5M413.9 863.7V869.5M421.4 863.7V869.5M429.0 863.7V869.5M436.6 863.7V869.5M444.2 863.7V869.5M451.7 863.7V869.5M459.3 863.7V869.5M466.9 863.7V869.5M474.4 863.7V869.5" stroke="#000" stroke-width="2.8" fill="none"/><polyline points="103.5,863.7 103.5,732.1 114.9,732.1 114.9,709.3 158.8,709.3 158.8,690.9 164.1,688.8 189.8,688.8 189.8,684.9 242.4,684.9 242.4,672.6 248.1,672.6 248.1,659.4 261.0,656.6 342.0,656.6 354.4,656.0 354.4,610.4 360.9,610.4 360.9,605.2 419.2,603.3 457.8,601.5 482.0,601.5" fill="none" stroke="#0000b8" stroke-width="3.8" stroke-linejoin="round" stroke-linecap="round"/><line x1="205.9" y1="756.1" x2="150.6" y2="727.7" stroke="#ff0000" stroke-width="4.4"/><polygon points="131.9,718.1 156.5,720.6 148.2,736.6" fill="#ff0000"/><text transform="translate(40.61 871.43) scale(1.3600 1)" font-size="21.50" font-weight="bold">0.0</text><text transform="translate(81.57 897.15) scale(1.3600 1)" font-size="21.50" font-weight="bold">0.0</text><text transform="translate(40.61 818.99) scale(1.3600 1)" font-size="21.50" font-weight="bold">0.2</text><text transform="translate(157.27 897.15) scale(1.3600 1)" font-size="21.50" font-weight="bold">0.2</text><text transform="translate(39.44 766.55) scale(1.3600 1)" font-size="21.50" font-weight="bold">0.4</text><text transform="translate(232.38 897.15) scale(1.3600 1)" font-size="21.50" font-weight="bold">0.4</text><text transform="translate(40.61 714.11) scale(1.3600 1)" font-size="21.50" font-weight="bold">0.6</text><text transform="translate(308.67 897.15) scale(1.3600 1)" font-size="21.50" font-weight="bold">0.6</text><text transform="translate(40.32 661.67) scale(1.3600 1)" font-size="21.50" font-weight="bold">0.8</text><text transform="translate(384.22 897.15) scale(1.3600 1)" font-size="21.50" font-weight="bold">0.8</text><text transform="translate(40.61 609.23) scale(1.3600 1)" font-size="21.50" font-weight="bold">1.0</text><text transform="translate(459.63 897.15) scale(1.3600 1)" font-size="21.50" font-weight="bold">1.0</text><text transform="translate(182.16 519.60) scale(1.5880 1)" font-size="21.39"><tspan font-weight="bold" font-style="normal">LAIR 2 mRNA</tspan></text><text transform="translate(97.26 542.80) scale(1.4188 1)" font-size="18.89"><tspan font-weight="bold" font-style="normal">All hypothyroid group Vs cntrols</tspan></text><text transform="translate(146.47 567.70) scale(1.3886 1)" font-size="20.00"><tspan font-weight="bold" font-style="italic">(AUC= 0.80, P&lt;0.0001)</tspan></text><text transform="translate(47.57 564.70) scale(1.3809 1)" font-size="29.31"><tspan font-weight="bold" font-style="normal">E)</tspan></text><text transform="translate(26.20 785.54) rotate(-90) scale(0.7631 1)" font-size="30.96" font-weight="normal" stroke="#000" stroke-width="0.55">Sensitivity</text><text transform="translate(193.07 930.20) scale(1.3208 1)" font-size="23.06"><tspan font-weight="bold" font-style="normal">1 - Specificity</tspan></text></g>
<g><polygon points="622.6,862.6 622.6,663.7 635.6,663.7 635.6,641.2 767.3,641.2 774.0,637.4 774.0,620.4 884.9,620.4 884.9,595.0 996.1,595.0 996.1,592.3 1017.0,592.3 1017.0,862.6 622.6,862.6" fill="url(#dots)"/><ellipse cx="1017.0" cy="592.3" rx="4.1" ry="2.8" fill="#f01818"/><ellipse cx="996.0" cy="606.7" rx="4.1" ry="2.8" fill="#f01818"/><ellipse cx="975.1" cy="621.1" rx="4.1" ry="2.8" fill="#f01818"/><ellipse cx="954.1" cy="635.5" rx="4.1" ry="2.8" fill="#f01818"/><ellipse cx="933.1" cy="650.0" rx="4.1" ry="2.8" fill="#f01818"/><ellipse cx="912.1" cy="664.4" rx="4.1" ry="2.8" fill="#f01818"/><ellipse cx="891.2" cy="678.8" rx="4.1" ry="2.8" fill="#f01818"/><ellipse cx="870.2" cy="693.2" rx="4.1" ry="2.8" fill="#f01818"/><ellipse cx="849.2" cy="707.6" rx="4.1" ry="2.8" fill="#f01818"/><ellipse cx="828.3" cy="722.0" rx="4.1" ry="2.8" fill="#f01818"/><ellipse cx="807.3" cy="736.5" rx="4.1" ry="2.8" fill="#f01818"/><ellipse cx="786.3" cy="750.9" rx="4.1" ry="2.8" fill="#f01818"/><ellipse cx="765.4" cy="765.3" rx="4.1" ry="2.8" fill="#f01818"/><ellipse cx="744.4" cy="779.7" rx="4.1" ry="2.8" fill="#f01818"/><ellipse cx="723.4" cy="794.1" rx="4.1" ry="2.8" fill="#f01818"/><ellipse cx="702.4" cy="808.5" rx="4.1" ry="2.8" fill="#f01818"/><ellipse cx="681.5" cy="823.0" rx="4.1" ry="2.8" fill="#f01818"/><ellipse cx="660.5" cy="837.4" rx="4.1" ry="2.8" fill="#f01818"/><ellipse cx="639.5" cy="851.8" rx="4.1" ry="2.8" fill="#f01818"/><line x1="606.6" y1="592.3" x2="1018.8" y2="592.3" stroke="#000" stroke-width="2.5"/><line x1="1017.0" y1="591.0" x2="1017.0" y2="874.1" stroke="#000" stroke-width="3.6"/><line x1="622.6" y1="591.0" x2="622.6" y2="874.1" stroke="#000" stroke-width="2.1"/><line x1="606.6" y1="862.6" x2="1017.0" y2="862.6" stroke="#000" stroke-width="2.6"/><path d="M622.6 857.2H614.8M622.6 851.8H614.8M622.6 846.4H614.8M622.6 841.0H614.8M622.6 835.6H614.8M622.6 830.2H614.8M622.6 824.8H614.8M622.6 819.4H614.8M622.6 813.9H614.8M622.6 803.1H614.8M622.6 797.7H614.8M622.6 792.3H614.8M622.6 786.9H614.8M622.6 781.5H614.8M622.6 776.1H614.8M622.6 770.7H614.8M622.6 765.3H614.8M622.6 759.9H614.8M622.6 749.1H614.8M622.6 743.7H614.8M622.6 738.3H614.8M622.6 732.9H614.8M622.6 727.5H614.8M622.6 722.0H614.8M622.6 716.6H614.8M622.6 711.2H614.8M622.6 705.8H614.8M622.6 695.0H614.8M622.6 689.6H614.8M622.6 684.2H614.8M622.6 678.8H614.8M622.6 673.4H614.8M622.6 668.0H614.8M622.6 662.6H614.8M622.6 657.2H614.8M622.6 651.8H614.8M622.6 641.0H614.8M622.6 635.5H614.8M622.6 630.1H614.8M622.6 624.7H614.8M622.6 619.3H614.8M622.6 613.9H614.8M622.6 608.5H614.8M622.6 603.1H614.8M622.6 597.7H614.8M622.6 808.5H606.6M701.5 862.6V874.1M622.6 754.5H606.6M780.4 862.6V874.1M622.6 700.4H606.6M859.2 862.6V874.1M622.6 646.4H606.6M938.1 862.6V874.1" stroke="#000" stroke-width="2.0" fill="none"/><path d="M630.5 862.6V868.4M638.4 862.6V868.4M646.3 862.6V868.4M654.2 862.6V868.4M662.0 862.6V868.4M669.9 862.6V868.4M677.8 862.6V868.4M685.7 862.6V868.4M693.6 862.6V868.4M709.4 862.6V868.4M717.3 862.6V868.4M725.1 862.6V868.4M733.0 862.6V868.4M740.9 862.6V868.4M748.8 862.6V868.4M756.7 862.6V868.4M764.6 862.6V868.4M772.5 862.6V868.4M788.2 862.6V868.4M796.1 862.6V868.4M804.0 862.6V868.4M811.9 862.6V868.4M819.8 862.6V868.4M827.7 862.6V868.4M835.6 862.6V868.4M843.5 862.6V868.4M851.4 862.6V868.4M867.1 862.6V868.4M875.0 862.6V868.4M882.9 862.6V868.4M890.8 862.6V868.4M898.7 862.6V868.4M906.6 862.6V868.4M914.5 862.6V868.4M922.3 862.6V868.4M930.2 862.6V868.4M946.0 862.6V868.4M953.9 862.6V868.4M961.8 862.6V868.4M969.7 862.6V868.4M977.6 862.6V868.4M985.4 862.6V868.4M993.3 862.6V868.4M1001.2 862.6V868.4M1009.1 862.6V868.4" stroke="#000" stroke-width="2.8" fill="none"/><polyline points="622.6,862.6 622.6,663.7 635.6,663.7 635.6,641.2 767.3,641.2 774.0,637.4 774.0,620.4 884.9,620.4 884.9,595.0 996.1,595.0 996.1,592.3 1017.0,592.3" fill="none" stroke="#0000b8" stroke-width="3.6" stroke-linejoin="round" stroke-linecap="round"/><line x1="743.0" y1="703.7" x2="666.9" y2="659.5" stroke="#ff0000" stroke-width="4.4"/><polygon points="648.7,649.0 673.1,652.8 664.1,668.3" fill="#ff0000"/><text transform="translate(559.71 870.33) scale(1.3600 1)" font-size="21.50" font-weight="bold">0.0</text><text transform="translate(600.67 896.05) scale(1.3600 1)" font-size="21.50" font-weight="bold">0.0</text><text transform="translate(559.71 816.26) scale(1.3600 1)" font-size="21.50" font-weight="bold">0.2</text><text transform="translate(679.55 896.05) scale(1.3600 1)" font-size="21.50" font-weight="bold">0.2</text><text transform="translate(558.54 762.21) scale(1.3600 1)" font-size="21.50" font-weight="bold">0.4</text><text transform="translate(757.84 896.05) scale(1.3600 1)" font-size="21.50" font-weight="bold">0.4</text><text transform="translate(559.71 708.14) scale(1.3600 1)" font-size="21.50" font-weight="bold">0.6</text><text transform="translate(837.31 896.05) scale(1.3600 1)" font-size="21.50" font-weight="bold">0.6</text><text transform="translate(559.42 654.08) scale(1.3600 1)" font-size="21.50" font-weight="bold">0.8</text><text transform="translate(916.04 896.05) scale(1.3600 1)" font-size="21.50" font-weight="bold">0.8</text><text transform="translate(559.71 600.02) scale(1.3600 1)" font-size="21.50" font-weight="bold">1.0</text><text transform="translate(994.63 896.05) scale(1.3600 1)" font-size="21.50" font-weight="bold">1.0</text><text transform="translate(704.08 520.20) scale(1.4449 1)" font-size="24.44"><tspan font-weight="bold" font-style="normal">LAIR 2 mRNA</tspan></text><text transform="translate(641.45 544.70) scale(1.3856 1)" font-size="20.69"><tspan font-weight="bold" font-style="normal">Clinical group Vs controls</tspan></text><text transform="translate(668.13 569.20) scale(1.4990 1)" font-size="19.31"><tspan font-weight="bold" font-style="italic">(AUC= 0.90, P&lt;0.0001)</tspan></text><text transform="translate(582.84 561.20) scale(1.3759 1)" font-size="28.61"><tspan font-weight="bold" font-style="normal">F)</tspan></text><text transform="translate(541.30 781.36) rotate(-90) scale(0.7612 1)" font-size="31.51" font-weight="normal" stroke="#000" stroke-width="0.55">Sensitivity</text><text transform="translate(717.00 929.60) scale(1.4171 1)" font-size="22.36"><tspan font-weight="bold" font-style="normal">1 - Specificity</tspan></text></g>
<rect x="1028" y="470" width="512" height="520" fill="#fff"/>
<g><polygon points="1130.1,877.6 1130.1,796.2 1141.9,796.2 1141.9,770.7 1184.4,770.7 1184.4,731.1 1188.8,727.2 1214.3,727.2 1214.3,721.3 1264.9,721.3 1264.9,698.3 1270.1,691.8 1277.1,687.9 1281.9,684.0 1360.9,682.9 1374.9,681.5 1374.9,614.7 1381.2,614.7 1381.2,601.8 1438.1,599.5 1438.1,597.0 1499.4,597.0 1499.4,877.6 1130.1,877.6" fill="url(#dots)"/><ellipse cx="1499.4" cy="597.0" rx="4.1" ry="2.8" fill="#f01818"/><ellipse cx="1479.8" cy="612.0" rx="4.1" ry="2.8" fill="#f01818"/><ellipse cx="1460.1" cy="626.9" rx="4.1" ry="2.8" fill="#f01818"/><ellipse cx="1440.5" cy="641.9" rx="4.1" ry="2.8" fill="#f01818"/><ellipse cx="1420.9" cy="656.9" rx="4.1" ry="2.8" fill="#f01818"/><ellipse cx="1401.2" cy="671.8" rx="4.1" ry="2.8" fill="#f01818"/><ellipse cx="1381.6" cy="686.8" rx="4.1" ry="2.8" fill="#f01818"/><ellipse cx="1362.0" cy="701.8" rx="4.1" ry="2.8" fill="#f01818"/><ellipse cx="1342.3" cy="716.7" rx="4.1" ry="2.8" fill="#f01818"/><ellipse cx="1322.7" cy="731.7" rx="4.1" ry="2.8" fill="#f01818"/><ellipse cx="1303.1" cy="746.7" rx="4.1" ry="2.8" fill="#f01818"/><ellipse cx="1283.4" cy="761.6" rx="4.1" ry="2.8" fill="#f01818"/><ellipse cx="1263.8" cy="776.6" rx="4.1" ry="2.8" fill="#f01818"/><ellipse cx="1244.2" cy="791.5" rx="4.1" ry="2.8" fill="#f01818"/><ellipse cx="1224.6" cy="806.5" rx="4.1" ry="2.8" fill="#f01818"/><ellipse cx="1204.9" cy="821.5" rx="4.1" ry="2.8" fill="#f01818"/><ellipse cx="1185.3" cy="836.4" rx="4.1" ry="2.8" fill="#f01818"/><ellipse cx="1165.7" cy="851.4" rx="4.1" ry="2.8" fill="#f01818"/><ellipse cx="1146.0" cy="866.4" rx="4.1" ry="2.8" fill="#f01818"/><line x1="1114.1" y1="597.0" x2="1501.1" y2="597.0" stroke="#000" stroke-width="2.5"/><line x1="1499.4" y1="595.8" x2="1499.4" y2="889.1" stroke="#000" stroke-width="3.4"/><line x1="1130.1" y1="595.8" x2="1130.1" y2="889.1" stroke="#000" stroke-width="2.2"/><line x1="1114.1" y1="877.6" x2="1499.4" y2="877.6" stroke="#000" stroke-width="1.8"/><path d="M1130.1 872.0H1122.2M1130.1 866.4H1122.2M1130.1 860.8H1122.2M1130.1 855.2H1122.2M1130.1 849.5H1122.2M1130.1 843.9H1122.2M1130.1 838.3H1122.2M1130.1 832.7H1122.2M1130.1 827.1H1122.2M1130.1 815.9H1122.2M1130.1 810.3H1122.2M1130.1 804.6H1122.2M1130.1 799.0H1122.2M1130.1 793.4H1122.2M1130.1 787.8H1122.2M1130.1 782.2H1122.2M1130.1 776.6H1122.2M1130.1 771.0H1122.2M1130.1 759.7H1122.2M1130.1 754.1H1122.2M1130.1 748.5H1122.2M1130.1 742.9H1122.2M1130.1 737.3H1122.2M1130.1 731.7H1122.2M1130.1 726.1H1122.2M1130.1 720.5H1122.2M1130.1 714.9H1122.2M1130.1 703.6H1122.2M1130.1 698.0H1122.2M1130.1 692.4H1122.2M1130.1 686.8H1122.2M1130.1 681.2H1122.2M1130.1 675.6H1122.2M1130.1 670.0H1122.2M1130.1 664.3H1122.2M1130.1 658.7H1122.2M1130.1 647.5H1122.2M1130.1 641.9H1122.2M1130.1 636.3H1122.2M1130.1 630.7H1122.2M1130.1 625.1H1122.2M1130.1 619.4H1122.2M1130.1 613.8H1122.2M1130.1 608.2H1122.2M1130.1 602.6H1122.2M1130.1 821.5H1114.1M1204.0 877.6V889.1M1130.1 765.4H1114.1M1277.8 877.6V889.1M1130.1 709.2H1114.1M1351.7 877.6V889.1M1130.1 653.1H1114.1M1425.5 877.6V889.1" stroke="#000" stroke-width="2.0" fill="none"/><path d="M1137.5 877.6V883.4M1144.9 877.6V883.4M1152.3 877.6V883.4M1159.6 877.6V883.4M1167.0 877.6V883.4M1174.4 877.6V883.4M1181.8 877.6V883.4M1189.2 877.6V883.4M1196.6 877.6V883.4M1211.3 877.6V883.4M1218.7 877.6V883.4M1226.1 877.6V883.4M1233.5 877.6V883.4M1240.9 877.6V883.4M1248.3 877.6V883.4M1255.7 877.6V883.4M1263.0 877.6V883.4M1270.4 877.6V883.4M1285.2 877.6V883.4M1292.6 877.6V883.4M1300.0 877.6V883.4M1307.4 877.6V883.4M1314.8 877.6V883.4M1322.1 877.6V883.4M1329.5 877.6V883.4M1336.9 877.6V883.4M1344.3 877.6V883.4M1359.1 877.6V883.4M1366.5 877.6V883.4M1373.8 877.6V883.4M1381.2 877.6V883.4M1388.6 877.6V883.4M1396.0 877.6V883.4M1403.4 877.6V883.4M1410.8 877.6V883.4M1418.2 877.6V883.4M1432.9 877.6V883.4M1440.3 877.6V883.4M1447.7 877.6V883.4M1455.1 877.6V883.4M1462.5 877.6V883.4M1469.9 877.6V883.4M1477.2 877.6V883.4M1484.6 877.6V883.4M1492.0 877.6V883.4" stroke="#000" stroke-width="2.8" fill="none"/><polyline points="1130.1,877.6 1130.1,796.2 1141.9,796.2 1141.9,770.7 1184.4,770.7 1184.4,731.1 1188.8,727.2 1214.3,727.2 1214.3,721.3 1264.9,721.3 1264.9,698.3 1270.1,691.8 1277.1,687.9 1281.9,684.0 1360.9,682.9 1374.9,681.5 1374.9,614.7 1381.2,614.7 1381.2,601.8 1438.1,599.5 1438.1,597.0 1499.4,597.0" fill="none" stroke="#0000b8" stroke-width="3.6" stroke-linejoin="round" stroke-linecap="round"/><line x1="1244.6" y1="776.7" x2="1216.4" y2="753.4" stroke="#ff0000" stroke-width="4.4"/><polygon points="1200.2,740.0 1223.7,747.7 1212.2,761.6" fill="#ff0000"/><text transform="translate(1067.21 885.33) scale(1.3600 1)" font-size="21.50" font-weight="bold">0.0</text><text transform="translate(1108.17 911.05) scale(1.3600 1)" font-size="21.50" font-weight="bold">0.0</text><text transform="translate(1067.21 829.21) scale(1.3600 1)" font-size="21.50" font-weight="bold">0.2</text><text transform="translate(1182.03 911.05) scale(1.3600 1)" font-size="21.50" font-weight="bold">0.2</text><text transform="translate(1066.04 773.09) scale(1.3600 1)" font-size="21.50" font-weight="bold">0.4</text><text transform="translate(1255.30 911.05) scale(1.3600 1)" font-size="21.50" font-weight="bold">0.4</text><text transform="translate(1067.21 716.97) scale(1.3600 1)" font-size="21.50" font-weight="bold">0.6</text><text transform="translate(1329.75 911.05) scale(1.3600 1)" font-size="21.50" font-weight="bold">0.6</text><text transform="translate(1066.92 660.85) scale(1.3600 1)" font-size="21.50" font-weight="bold">0.8</text><text transform="translate(1403.46 911.05) scale(1.3600 1)" font-size="21.50" font-weight="bold">0.8</text><text transform="translate(1067.21 604.73) scale(1.3600 1)" font-size="21.50" font-weight="bold">1.0</text><text transform="translate(1477.03 911.05) scale(1.3600 1)" font-size="21.50" font-weight="bold">1.0</text><text transform="translate(1205.00 522.20) scale(1.3614 1)" font-size="24.44"><tspan font-weight="bold" font-style="normal">LAIR 2 mRNA</tspan></text><text transform="translate(1132.47 547.00) scale(1.2839 1)" font-size="20.83"><tspan font-weight="bold" font-style="normal">Subclinical group Vs controls</tspan></text><text transform="translate(1171.79 572.30) scale(1.2940 1)" font-size="20.83"><tspan font-weight="bold" font-style="italic">(AUC= 0.71, P&lt;0.0001)</tspan></text><text transform="translate(1083.48 563.30) scale(1.2019 1)" font-size="27.36"><tspan font-weight="bold" font-style="normal">G)</tspan></text><text transform="translate(1054.50 793.70) rotate(-90) scale(0.8137 1)" font-size="30.68" font-weight="normal" stroke="#000" stroke-width="0.55">Sensitivity</text><text transform="translate(1217.72 947.20) scale(1.3303 1)" font-size="22.36"><tspan font-weight="bold" font-style="normal">1 - Specificity</tspan></text></g>
<g><polygon points="1637.5,877.6 1637.5,819.0 1642.3,815.9 1642.3,793.4 1646.5,785.3 1651.4,777.1 1661.7,777.1 1661.7,764.2 1665.9,762.8 1676.2,762.8 1676.2,751.3 1680.4,751.3 1680.4,737.0 1705.5,737.0 1709.3,727.2 1714.3,714.6 1724.2,714.6 1724.2,703.1 1735.2,703.1 1735.2,675.8 1741.7,675.8 1741.7,662.4 1751.6,662.4 1753.1,656.5 1759.6,650.0 1767.6,647.5 1844.9,647.5 1846.4,645.3 1880.7,645.3 1880.7,634.0 1883.7,625.1 1925.6,625.1 1927.1,621.1 1954.5,621.1 1954.5,614.1 1970.9,614.1 1970.9,607.4 1974.0,601.2 2012.8,599.8 2012.8,877.6 1637.5,877.6" fill="url(#dots)"/><ellipse cx="2012.8" cy="597.0" rx="4.1" ry="2.8" fill="#f01818"/><ellipse cx="1992.6" cy="612.0" rx="4.1" ry="2.8" fill="#f01818"/><ellipse cx="1972.3" cy="626.9" rx="4.1" ry="2.8" fill="#f01818"/><ellipse cx="1952.1" cy="641.9" rx="4.1" ry="2.8" fill="#f01818"/><ellipse cx="1931.8" cy="656.9" rx="4.1" ry="2.8" fill="#f01818"/><ellipse cx="1911.6" cy="671.8" rx="4.1" ry="2.8" fill="#f01818"/><ellipse cx="1891.3" cy="686.8" rx="4.1" ry="2.8" fill="#f01818"/><ellipse cx="1871.1" cy="701.8" rx="4.1" ry="2.8" fill="#f01818"/><ellipse cx="1850.8" cy="716.7" rx="4.1" ry="2.8" fill="#f01818"/><ellipse cx="1830.6" cy="731.7" rx="4.1" ry="2.8" fill="#f01818"/><ellipse cx="1810.3" cy="746.7" rx="4.1" ry="2.8" fill="#f01818"/><ellipse cx="1790.1" cy="761.6" rx="4.1" ry="2.8" fill="#f01818"/><ellipse cx="1769.9" cy="776.6" rx="4.1" ry="2.8" fill="#f01818"/><ellipse cx="1749.6" cy="791.5" rx="4.1" ry="2.8" fill="#f01818"/><ellipse cx="1729.4" cy="806.5" rx="4.1" ry="2.8" fill="#f01818"/><ellipse cx="1709.1" cy="821.5" rx="4.1" ry="2.8" fill="#f01818"/><ellipse cx="1688.9" cy="836.4" rx="4.1" ry="2.8" fill="#f01818"/><ellipse cx="1668.6" cy="851.4" rx="4.1" ry="2.8" fill="#f01818"/><ellipse cx="1648.4" cy="866.4" rx="4.1" ry="2.8" fill="#f01818"/><line x1="1616.0" y1="597.0" x2="2013.8" y2="597.0" stroke="#000" stroke-width="2.5"/><line x1="2012.8" y1="595.8" x2="2012.8" y2="889.1" stroke="#000" stroke-width="2.0"/><line x1="1632.0" y1="595.8" x2="1632.0" y2="889.1" stroke="#000" stroke-width="3.9"/><line x1="1616.0" y1="877.6" x2="2012.8" y2="877.6" stroke="#000" stroke-width="1.8"/><path d="M1632.0 872.0H1623.2M1632.0 866.4H1623.2M1632.0 860.8H1623.2M1632.0 855.2H1623.2M1632.0 849.5H1623.2M1632.0 843.9H1623.2M1632.0 838.3H1623.2M1632.0 832.7H1623.2M1632.0 827.1H1623.2M1632.0 815.9H1623.2M1632.0 810.3H1623.2M1632.0 804.6H1623.2M1632.0 799.0H1623.2M1632.0 793.4H1623.2M1632.0 787.8H1623.2M1632.0 782.2H1623.2M1632.0 776.6H1623.2M1632.0 771.0H1623.2M1632.0 759.7H1623.2M1632.0 754.1H1623.2M1632.0 748.5H1623.2M1632.0 742.9H1623.2M1632.0 737.3H1623.2M1632.0 731.7H1623.2M1632.0 726.1H1623.2M1632.0 720.5H1623.2M1632.0 714.9H1623.2M1632.0 703.6H1623.2M1632.0 698.0H1623.2M1632.0 692.4H1623.2M1632.0 686.8H1623.2M1632.0 681.2H1623.2M1632.0 675.6H1623.2M1632.0 670.0H1623.2M1632.0 664.3H1623.2M1632.0 658.7H1623.2M1632.0 647.5H1623.2M1632.0 641.9H1623.2M1632.0 636.3H1623.2M1632.0 630.7H1623.2M1632.0 625.1H1623.2M1632.0 619.4H1623.2M1632.0 613.8H1623.2M1632.0 608.2H1623.2M1632.0 602.6H1623.2M1632.0 821.5H1616.0M1708.2 877.6V889.1M1632.0 765.4H1616.0M1784.3 877.6V889.1M1632.0 709.2H1616.0M1860.5 877.6V889.1M1632.0 653.1H1616.0M1936.6 877.6V889.1" stroke="#000" stroke-width="2.0" fill="none"/><path d="M1639.6 877.6V883.4M1647.2 877.6V883.4M1654.8 877.6V883.4M1662.5 877.6V883.4M1670.1 877.6V883.4M1677.7 877.6V883.4M1685.3 877.6V883.4M1692.9 877.6V883.4M1700.5 877.6V883.4M1715.8 877.6V883.4M1723.4 877.6V883.4M1731.0 877.6V883.4M1738.6 877.6V883.4M1746.2 877.6V883.4M1753.9 877.6V883.4M1761.5 877.6V883.4M1769.1 877.6V883.4M1776.7 877.6V883.4M1791.9 877.6V883.4M1799.6 877.6V883.4M1807.2 877.6V883.4M1814.8 877.6V883.4M1822.4 877.6V883.4M1830.0 877.6V883.4M1837.6 877.6V883.4M1845.2 877.6V883.4M1852.9 877.6V883.4M1868.1 877.6V883.4M1875.7 877.6V883.4M1883.3 877.6V883.4M1890.9 877.6V883.4M1898.6 877.6V883.4M1906.2 877.6V883.4M1913.8 877.6V883.4M1921.4 877.6V883.4M1929.0 877.6V883.4M1944.3 877.6V883.4M1951.9 877.6V883.4M1959.5 877.6V883.4M1967.1 877.6V883.4M1974.7 877.6V883.4M1982.3 877.6V883.4M1990.0 877.6V883.4M1997.6 877.6V883.4M2005.2 877.6V883.4" stroke="#000" stroke-width="2.8" fill="none"/><polyline points="1637.5,877.6 1637.5,819.0 1642.3,815.9 1642.3,793.4 1646.5,785.3 1651.4,777.1 1661.7,777.1 1661.7,764.2 1665.9,762.8 1676.2,762.8 1676.2,751.3 1680.4,751.3 1680.4,737.0 1705.5,737.0 1709.3,727.2 1714.3,714.6 1724.2,714.6 1724.2,703.1 1735.2,703.1 1735.2,675.8 1741.7,675.8 1741.7,662.4 1751.6,662.4 1753.1,656.5 1759.6,650.0 1767.6,647.5 1844.9,647.5 1846.4,645.3 1880.7,645.3 1880.7,634.0 1883.7,625.1 1925.6,625.1 1927.1,621.1 1954.5,621.1 1954.5,614.1 1970.9,614.1 1970.9,607.4 1974.0,601.2 2012.8,599.8" fill="none" stroke="#0000b8" stroke-width="3.2" stroke-linejoin="round" stroke-linecap="round"/><line x1="1812.6" y1="705.2" x2="1770.2" y2="680.4" stroke="#ff0000" stroke-width="4.4"/><polygon points="1752.1,669.8 1776.5,673.6 1767.4,689.2" fill="#ff0000"/><text transform="translate(1569.11 885.33) scale(1.3600 1)" font-size="21.50" font-weight="bold">0.0</text><text transform="translate(1610.07 911.05) scale(1.3600 1)" font-size="21.50" font-weight="bold">0.0</text><text transform="translate(1569.11 829.21) scale(1.3600 1)" font-size="21.50" font-weight="bold">0.2</text><text transform="translate(1686.23 911.05) scale(1.3600 1)" font-size="21.50" font-weight="bold">0.2</text><text transform="translate(1567.94 773.09) scale(1.3600 1)" font-size="21.50" font-weight="bold">0.4</text><text transform="translate(1761.80 911.05) scale(1.3600 1)" font-size="21.50" font-weight="bold">0.4</text><text transform="translate(1569.11 716.97) scale(1.3600 1)" font-size="21.50" font-weight="bold">0.6</text><text transform="translate(1838.55 911.05) scale(1.3600 1)" font-size="21.50" font-weight="bold">0.6</text><text transform="translate(1568.82 660.85) scale(1.3600 1)" font-size="21.50" font-weight="bold">0.8</text><text transform="translate(1914.56 911.05) scale(1.3600 1)" font-size="21.50" font-weight="bold">0.8</text><text transform="translate(1569.11 604.73) scale(1.3600 1)" font-size="21.50" font-weight="bold">1.0</text><text transform="translate(1990.43 911.05) scale(1.3600 1)" font-size="21.50" font-weight="bold">1.0</text><text transform="translate(1709.54 522.20) scale(1.4022 1)" font-size="24.44"><tspan font-weight="bold" font-style="normal">LAIR 2 mRNA</tspan></text><text transform="translate(1632.90 547.00) scale(1.3325 1)" font-size="20.69"><tspan font-weight="bold" font-style="normal">Clinical Vs subclinical group</tspan></text><text transform="translate(1675.06 572.30) scale(1.3828 1)" font-size="20.14"><tspan font-weight="bold" font-style="italic">(AUC= 0.75, P&lt;0.0001)</tspan></text><text transform="translate(1589.36 564.60) scale(1.4267 1)" font-size="25.00"><tspan font-weight="bold" font-style="normal">H</tspan></text><text transform="translate(1614.20 564.60) scale(1.0031 1)" font-size="27.50"><tspan font-weight="bold" font-style="normal">)</tspan></text><text transform="translate(1553.60 793.70) rotate(-90) scale(0.7857 1)" font-size="31.78" font-weight="normal" stroke="#000" stroke-width="0.55">Sensitivity</text><text transform="translate(1722.06 947.20) scale(1.3688 1)" font-size="22.36"><tspan font-weight="bold" font-style="normal">1 - Specificity</tspan></text></g>
<g><polygon points="105.7,1398.8 105.7,1287.4 118.2,1287.4 118.2,1253.2 131.9,1253.2 131.9,1223.5 145.4,1219.2 160.0,1219.2 160.0,1174.2 201.3,1170.8 227.9,1168.8 242.5,1168.8 242.5,1160.0 256.0,1160.0 256.0,1152.6 270.7,1152.6 270.7,1138.6 283.8,1133.5 330.0,1131.2 353.1,1128.0 392.8,1125.2 435.6,1123.8 475.3,1123.8 478.4,1120.4 491.1,1119.5 491.1,1113.8 491.1,1398.8 105.7,1398.8" fill="url(#dots)"/><ellipse cx="491.1" cy="1113.8" rx="4.1" ry="2.8" fill="#f01818"/><ellipse cx="470.6" cy="1129.0" rx="4.1" ry="2.8" fill="#f01818"/><ellipse cx="450.1" cy="1144.2" rx="4.1" ry="2.8" fill="#f01818"/><ellipse cx="429.6" cy="1159.4" rx="4.1" ry="2.8" fill="#f01818"/><ellipse cx="409.1" cy="1174.6" rx="4.1" ry="2.8" fill="#f01818"/><ellipse cx="388.6" cy="1189.8" rx="4.1" ry="2.8" fill="#f01818"/><ellipse cx="368.2" cy="1205.0" rx="4.1" ry="2.8" fill="#f01818"/><ellipse cx="347.7" cy="1220.2" rx="4.1" ry="2.8" fill="#f01818"/><ellipse cx="327.2" cy="1235.4" rx="4.1" ry="2.8" fill="#f01818"/><ellipse cx="306.7" cy="1250.6" rx="4.1" ry="2.8" fill="#f01818"/><ellipse cx="286.2" cy="1265.8" rx="4.1" ry="2.8" fill="#f01818"/><ellipse cx="265.7" cy="1281.0" rx="4.1" ry="2.8" fill="#f01818"/><ellipse cx="245.2" cy="1296.2" rx="4.1" ry="2.8" fill="#f01818"/><ellipse cx="224.7" cy="1311.4" rx="4.1" ry="2.8" fill="#f01818"/><ellipse cx="204.2" cy="1326.6" rx="4.1" ry="2.8" fill="#f01818"/><ellipse cx="183.7" cy="1341.8" rx="4.1" ry="2.8" fill="#f01818"/><ellipse cx="163.2" cy="1357.0" rx="4.1" ry="2.8" fill="#f01818"/><ellipse cx="142.8" cy="1372.2" rx="4.1" ry="2.8" fill="#f01818"/><ellipse cx="122.3" cy="1387.4" rx="4.1" ry="2.8" fill="#f01818"/><line x1="89.7" y1="1113.8" x2="492.9" y2="1113.8" stroke="#000" stroke-width="2.3"/><line x1="491.1" y1="1112.6" x2="491.1" y2="1410.3" stroke="#000" stroke-width="3.6"/><line x1="105.7" y1="1112.6" x2="105.7" y2="1410.3" stroke="#000" stroke-width="2.1"/><line x1="89.7" y1="1398.8" x2="491.1" y2="1398.8" stroke="#000" stroke-width="1.8"/><path d="M105.7 1393.1H97.9M105.7 1387.4H97.9M105.7 1381.7H97.9M105.7 1376.0H97.9M105.7 1370.3H97.9M105.7 1364.6H97.9M105.7 1358.9H97.9M105.7 1353.2H97.9M105.7 1347.5H97.9M105.7 1336.1H97.9M105.7 1330.4H97.9M105.7 1324.7H97.9M105.7 1319.0H97.9M105.7 1313.3H97.9M105.7 1307.6H97.9M105.7 1301.9H97.9M105.7 1296.2H97.9M105.7 1290.5H97.9M105.7 1279.1H97.9M105.7 1273.4H97.9M105.7 1267.7H97.9M105.7 1262.0H97.9M105.7 1256.3H97.9M105.7 1250.6H97.9M105.7 1244.9H97.9M105.7 1239.2H97.9M105.7 1233.5H97.9M105.7 1222.1H97.9M105.7 1216.4H97.9M105.7 1210.7H97.9M105.7 1205.0H97.9M105.7 1199.3H97.9M105.7 1193.6H97.9M105.7 1187.9H97.9M105.7 1182.2H97.9M105.7 1176.5H97.9M105.7 1165.1H97.9M105.7 1159.4H97.9M105.7 1153.7H97.9M105.7 1148.0H97.9M105.7 1142.3H97.9M105.7 1136.6H97.9M105.7 1130.9H97.9M105.7 1125.2H97.9M105.7 1119.5H97.9M105.7 1341.8H89.7M182.8 1398.8V1410.3M105.7 1284.8H89.7M259.9 1398.8V1410.3M105.7 1227.8H89.7M336.9 1398.8V1410.3M105.7 1170.8H89.7M414.0 1398.8V1410.3" stroke="#000" stroke-width="2.0" fill="none"/><path d="M113.4 1398.8V1404.6M121.1 1398.8V1404.6M128.8 1398.8V1404.6M136.5 1398.8V1404.6M144.2 1398.8V1404.6M151.9 1398.8V1404.6M159.7 1398.8V1404.6M167.4 1398.8V1404.6M175.1 1398.8V1404.6M190.5 1398.8V1404.6M198.2 1398.8V1404.6M205.9 1398.8V1404.6M213.6 1398.8V1404.6M221.3 1398.8V1404.6M229.0 1398.8V1404.6M236.7 1398.8V1404.6M244.4 1398.8V1404.6M252.2 1398.8V1404.6M267.6 1398.8V1404.6M275.3 1398.8V1404.6M283.0 1398.8V1404.6M290.7 1398.8V1404.6M298.4 1398.8V1404.6M306.1 1398.8V1404.6M313.8 1398.8V1404.6M321.5 1398.8V1404.6M329.2 1398.8V1404.6M344.6 1398.8V1404.6M352.4 1398.8V1404.6M360.1 1398.8V1404.6M367.8 1398.8V1404.6M375.5 1398.8V1404.6M383.2 1398.8V1404.6M390.9 1398.8V1404.6M398.6 1398.8V1404.6M406.3 1398.8V1404.6M421.7 1398.8V1404.6M429.4 1398.8V1404.6M437.1 1398.8V1404.6M444.9 1398.8V1404.6M452.6 1398.8V1404.6M460.3 1398.8V1404.6M468.0 1398.8V1404.6M475.7 1398.8V1404.6M483.4 1398.8V1404.6" stroke="#000" stroke-width="2.8" fill="none"/><polyline points="105.7,1398.8 105.7,1287.4 118.2,1287.4 118.2,1253.2 131.9,1253.2 131.9,1223.5 145.4,1219.2 160.0,1219.2 160.0,1174.2 201.3,1170.8 227.9,1168.8 242.5,1168.8 242.5,1160.0 256.0,1160.0 256.0,1152.6 270.7,1152.6 270.7,1138.6 283.8,1133.5 330.0,1131.2 353.1,1128.0 392.8,1125.2 435.6,1123.8 475.3,1123.8 478.4,1120.4 491.1,1119.5 491.1,1113.8" fill="none" stroke="#0000b8" stroke-width="3.8" stroke-linejoin="round" stroke-linecap="round"/><line x1="235.7" y1="1234.1" x2="186.4" y2="1195.9" stroke="#ff0000" stroke-width="4.4"/><polygon points="169.8,1183.0 193.5,1190.0 182.5,1204.2" fill="#ff0000"/><text transform="translate(42.81 1406.53) scale(1.3600 1)" font-size="21.50" font-weight="bold">0.0</text><text transform="translate(83.77 1432.25) scale(1.3600 1)" font-size="21.50" font-weight="bold">0.0</text><text transform="translate(42.81 1349.53) scale(1.3600 1)" font-size="21.50" font-weight="bold">0.2</text><text transform="translate(160.85 1432.25) scale(1.3600 1)" font-size="21.50" font-weight="bold">0.2</text><text transform="translate(41.64 1292.53) scale(1.3600 1)" font-size="21.50" font-weight="bold">0.4</text><text transform="translate(237.34 1432.25) scale(1.3600 1)" font-size="21.50" font-weight="bold">0.4</text><text transform="translate(42.81 1235.53) scale(1.3600 1)" font-size="21.50" font-weight="bold">0.6</text><text transform="translate(315.01 1432.25) scale(1.3600 1)" font-size="21.50" font-weight="bold">0.6</text><text transform="translate(42.52 1178.53) scale(1.3600 1)" font-size="21.50" font-weight="bold">0.8</text><text transform="translate(391.94 1432.25) scale(1.3600 1)" font-size="21.50" font-weight="bold">0.8</text><text transform="translate(42.81 1121.53) scale(1.3600 1)" font-size="21.50" font-weight="bold">1.0</text><text transform="translate(468.73 1432.25) scale(1.3600 1)" font-size="21.50" font-weight="bold">1.0</text><text transform="translate(119.49 1030.70) scale(1.3959 1)" font-size="25.28"><tspan font-weight="bold" font-style="normal">Serum LAIR 2 protein</tspan></text><text transform="translate(74.55 1056.00) scale(1.2564 1)" font-size="21.94"><tspan font-weight="bold" font-style="normal">All hypothyroid group Vs controls</tspan></text><text transform="translate(149.35 1084.00) scale(1.2234 1)" font-size="23.19"><tspan font-weight="bold" font-style="italic">(AUC= 0.85, P&lt;0.0001)</tspan></text><text transform="translate(53.07 1075.30) scale(1.2176 1)" font-size="23.61"><tspan font-weight="bold" font-style="normal">I</tspan></text><text transform="translate(62.00 1075.30) scale(1.0806 1)" font-size="26.81"><tspan font-weight="bold" font-style="normal">)</tspan></text><text transform="translate(26.30 1313.42) rotate(-90) scale(0.8095 1)" font-size="31.37" font-weight="normal" stroke="#000" stroke-width="0.55">Sensitivity</text><text transform="translate(196.93 1470.80) scale(1.3439 1)" font-size="23.19"><tspan font-weight="bold" font-style="normal">1 - Specificity</tspan></text></g>
<g><polygon points="639.5,1411.8 639.5,1298.6 652.6,1298.6 652.6,1272.6 665.8,1272.6 665.8,1247.0 678.2,1242.6 693.3,1236.3 693.3,1209.7 707.9,1207.4 719.5,1207.4 734.6,1200.8 762.5,1200.8 762.5,1195.0 775.6,1195.0 775.6,1186.6 789.9,1181.1 803.8,1181.1 803.8,1167.0 818.5,1167.0 818.5,1154.3 846.4,1154.3 873.1,1149.4 915.6,1149.4 929.1,1142.7 968.6,1140.4 1013.1,1140.4 1013.1,1131.8 1026.2,1131.8 1026.2,1123.1 1026.2,1411.8 639.5,1411.8" fill="url(#dots)"/><ellipse cx="1026.2" cy="1123.1" rx="4.1" ry="2.8" fill="#f01818"/><ellipse cx="1005.6" cy="1138.5" rx="4.1" ry="2.8" fill="#f01818"/><ellipse cx="985.1" cy="1153.9" rx="4.1" ry="2.8" fill="#f01818"/><ellipse cx="964.5" cy="1169.3" rx="4.1" ry="2.8" fill="#f01818"/><ellipse cx="944.0" cy="1184.7" rx="4.1" ry="2.8" fill="#f01818"/><ellipse cx="923.4" cy="1200.1" rx="4.1" ry="2.8" fill="#f01818"/><ellipse cx="902.8" cy="1215.5" rx="4.1" ry="2.8" fill="#f01818"/><ellipse cx="882.3" cy="1230.9" rx="4.1" ry="2.8" fill="#f01818"/><ellipse cx="861.7" cy="1246.3" rx="4.1" ry="2.8" fill="#f01818"/><ellipse cx="841.2" cy="1261.7" rx="4.1" ry="2.8" fill="#f01818"/><ellipse cx="820.6" cy="1277.1" rx="4.1" ry="2.8" fill="#f01818"/><ellipse cx="800.0" cy="1292.5" rx="4.1" ry="2.8" fill="#f01818"/><ellipse cx="779.5" cy="1307.9" rx="4.1" ry="2.8" fill="#f01818"/><ellipse cx="758.9" cy="1323.3" rx="4.1" ry="2.8" fill="#f01818"/><ellipse cx="738.4" cy="1338.7" rx="4.1" ry="2.8" fill="#f01818"/><ellipse cx="717.8" cy="1354.1" rx="4.1" ry="2.8" fill="#f01818"/><ellipse cx="697.2" cy="1369.5" rx="4.1" ry="2.8" fill="#f01818"/><ellipse cx="676.7" cy="1384.9" rx="4.1" ry="2.8" fill="#f01818"/><ellipse cx="656.1" cy="1400.3" rx="4.1" ry="2.8" fill="#f01818"/><line x1="623.5" y1="1123.1" x2="1028.2" y2="1123.1" stroke="#000" stroke-width="2.3"/><line x1="1026.2" y1="1121.9" x2="1026.2" y2="1423.3" stroke="#000" stroke-width="3.9"/><line x1="639.5" y1="1121.9" x2="639.5" y2="1423.3" stroke="#000" stroke-width="3.6"/><line x1="623.5" y1="1411.8" x2="1026.2" y2="1411.8" stroke="#000" stroke-width="2.6"/><path d="M639.5 1406.0H630.9M639.5 1400.3H630.9M639.5 1394.5H630.9M639.5 1388.7H630.9M639.5 1382.9H630.9M639.5 1377.2H630.9M639.5 1371.4H630.9M639.5 1365.6H630.9M639.5 1359.8H630.9M639.5 1348.3H630.9M639.5 1342.5H630.9M639.5 1336.7H630.9M639.5 1331.0H630.9M639.5 1325.2H630.9M639.5 1319.4H630.9M639.5 1313.6H630.9M639.5 1307.9H630.9M639.5 1302.1H630.9M639.5 1290.5H630.9M639.5 1284.8H630.9M639.5 1279.0H630.9M639.5 1273.2H630.9M639.5 1267.4H630.9M639.5 1261.7H630.9M639.5 1255.9H630.9M639.5 1250.1H630.9M639.5 1244.4H630.9M639.5 1232.8H630.9M639.5 1227.0H630.9M639.5 1221.3H630.9M639.5 1215.5H630.9M639.5 1209.7H630.9M639.5 1203.9H630.9M639.5 1198.2H630.9M639.5 1192.4H630.9M639.5 1186.6H630.9M639.5 1175.1H630.9M639.5 1169.3H630.9M639.5 1163.5H630.9M639.5 1157.7H630.9M639.5 1152.0H630.9M639.5 1146.2H630.9M639.5 1140.4H630.9M639.5 1134.6H630.9M639.5 1128.9H630.9M639.5 1354.1H623.5M716.8 1411.8V1423.3M639.5 1296.3H623.5M794.2 1411.8V1423.3M639.5 1238.6H623.5M871.5 1411.8V1423.3M639.5 1180.8H623.5M948.9 1411.8V1423.3" stroke="#000" stroke-width="2.0" fill="none"/><path d="M647.2 1411.8V1417.6M655.0 1411.8V1417.6M662.7 1411.8V1417.6M670.4 1411.8V1417.6M678.2 1411.8V1417.6M685.9 1411.8V1417.6M693.6 1411.8V1417.6M701.4 1411.8V1417.6M709.1 1411.8V1417.6M724.6 1411.8V1417.6M732.3 1411.8V1417.6M740.0 1411.8V1417.6M747.8 1411.8V1417.6M755.5 1411.8V1417.6M763.2 1411.8V1417.6M771.0 1411.8V1417.6M778.7 1411.8V1417.6M786.4 1411.8V1417.6M801.9 1411.8V1417.6M809.6 1411.8V1417.6M817.4 1411.8V1417.6M825.1 1411.8V1417.6M832.9 1411.8V1417.6M840.6 1411.8V1417.6M848.3 1411.8V1417.6M856.1 1411.8V1417.6M863.8 1411.8V1417.6M879.3 1411.8V1417.6M887.0 1411.8V1417.6M894.7 1411.8V1417.6M902.5 1411.8V1417.6M910.2 1411.8V1417.6M917.9 1411.8V1417.6M925.7 1411.8V1417.6M933.4 1411.8V1417.6M941.1 1411.8V1417.6M956.6 1411.8V1417.6M964.3 1411.8V1417.6M972.1 1411.8V1417.6M979.8 1411.8V1417.6M987.5 1411.8V1417.6M995.3 1411.8V1417.6M1003.0 1411.8V1417.6M1010.7 1411.8V1417.6M1018.5 1411.8V1417.6" stroke="#000" stroke-width="2.8" fill="none"/><polyline points="639.5,1411.8 639.5,1298.6 652.6,1298.6 652.6,1272.6 665.8,1272.6 665.8,1247.0 678.2,1242.6 693.3,1236.3 693.3,1209.7 707.9,1207.4 719.5,1207.4 734.6,1200.8 762.5,1200.8 762.5,1195.0 775.6,1195.0 775.6,1186.6 789.9,1181.1 803.8,1181.1 803.8,1167.0 818.5,1167.0 818.5,1154.3 846.4,1154.3 873.1,1149.4 915.6,1149.4 929.1,1142.7 968.6,1140.4 1013.1,1140.4 1013.1,1131.8 1026.2,1131.8 1026.2,1123.1" fill="none" stroke="#0000b8" stroke-width="3.4" stroke-linejoin="round" stroke-linecap="round"/><line x1="790.8" y1="1258.8" x2="718.4" y2="1223.5" stroke="#ff0000" stroke-width="4.4"/><polygon points="699.5,1214.3 724.1,1216.3 716.2,1232.5" fill="#ff0000"/><text transform="translate(576.61 1419.53) scale(1.3600 1)" font-size="21.50" font-weight="bold">0.0</text><text transform="translate(617.57 1445.25) scale(1.3600 1)" font-size="21.50" font-weight="bold">0.0</text><text transform="translate(576.61 1361.79) scale(1.3600 1)" font-size="21.50" font-weight="bold">0.2</text><text transform="translate(694.91 1445.25) scale(1.3600 1)" font-size="21.50" font-weight="bold">0.2</text><text transform="translate(575.44 1304.05) scale(1.3600 1)" font-size="21.50" font-weight="bold">0.4</text><text transform="translate(771.66 1445.25) scale(1.3600 1)" font-size="21.50" font-weight="bold">0.4</text><text transform="translate(576.61 1246.31) scale(1.3600 1)" font-size="21.50" font-weight="bold">0.6</text><text transform="translate(849.59 1445.25) scale(1.3600 1)" font-size="21.50" font-weight="bold">0.6</text><text transform="translate(576.32 1188.57) scale(1.3600 1)" font-size="21.50" font-weight="bold">0.8</text><text transform="translate(926.78 1445.25) scale(1.3600 1)" font-size="21.50" font-weight="bold">0.8</text><text transform="translate(576.61 1130.83) scale(1.3600 1)" font-size="21.50" font-weight="bold">1.0</text><text transform="translate(1003.83 1445.25) scale(1.3600 1)" font-size="21.50" font-weight="bold">1.0</text><text transform="translate(652.80 1030.70) scale(1.3868 1)" font-size="25.42"><tspan font-weight="bold" font-style="normal">Serum LAIR 2 protein</tspan></text><text transform="translate(657.17 1057.00) scale(1.2324 1)" font-size="22.92"><tspan font-weight="bold" font-style="normal">Clinical group Vs controls</tspan></text><text transform="translate(682.65 1084.30) scale(1.2217 1)" font-size="23.19"><tspan font-weight="bold" font-style="italic">(AUC= 0.81, P&lt;0.0001)</tspan></text><text transform="translate(600.11 1080.00) scale(1.2019 1)" font-size="32.64"><tspan font-weight="bold" font-style="normal">J)</tspan></text><text transform="translate(558.70 1324.73) rotate(-90) scale(0.8553 1)" font-size="30.14" font-weight="normal" stroke="#000" stroke-width="0.55">Sensitivity</text><text transform="translate(730.13 1483.30) scale(1.2264 1)" font-size="25.42"><tspan font-weight="bold" font-style="normal">1 - Specificity</tspan></text></g>
<rect x="1028" y="990" width="532" height="502" fill="#fff"/>
<g><polygon points="1142.7,1399.0 1142.7,1293.7 1155.8,1293.7 1155.8,1255.0 1170.1,1255.0 1170.1,1224.0 1181.7,1220.5 1197.6,1220.5 1197.6,1166.9 1280.7,1166.9 1280.7,1159.7 1293.8,1159.7 1293.8,1153.0 1308.9,1153.0 1308.9,1140.6 1376.5,1140.6 1391.6,1135.7 1529.2,1135.7 1529.2,1129.8 1529.2,1399.0 1142.7,1399.0" fill="url(#dots)"/><ellipse cx="1529.2" cy="1129.8" rx="4.1" ry="2.8" fill="#f01818"/><ellipse cx="1508.7" cy="1144.2" rx="4.1" ry="2.8" fill="#f01818"/><ellipse cx="1488.1" cy="1158.5" rx="4.1" ry="2.8" fill="#f01818"/><ellipse cx="1467.6" cy="1172.9" rx="4.1" ry="2.8" fill="#f01818"/><ellipse cx="1447.0" cy="1187.2" rx="4.1" ry="2.8" fill="#f01818"/><ellipse cx="1426.5" cy="1201.6" rx="4.1" ry="2.8" fill="#f01818"/><ellipse cx="1405.9" cy="1215.9" rx="4.1" ry="2.8" fill="#f01818"/><ellipse cx="1385.4" cy="1230.3" rx="4.1" ry="2.8" fill="#f01818"/><ellipse cx="1364.8" cy="1244.7" rx="4.1" ry="2.8" fill="#f01818"/><ellipse cx="1344.3" cy="1259.0" rx="4.1" ry="2.8" fill="#f01818"/><ellipse cx="1323.7" cy="1273.4" rx="4.1" ry="2.8" fill="#f01818"/><ellipse cx="1303.2" cy="1287.7" rx="4.1" ry="2.8" fill="#f01818"/><ellipse cx="1282.6" cy="1302.1" rx="4.1" ry="2.8" fill="#f01818"/><ellipse cx="1262.1" cy="1316.4" rx="4.1" ry="2.8" fill="#f01818"/><ellipse cx="1241.5" cy="1330.8" rx="4.1" ry="2.8" fill="#f01818"/><ellipse cx="1221.0" cy="1345.2" rx="4.1" ry="2.8" fill="#f01818"/><ellipse cx="1200.4" cy="1359.5" rx="4.1" ry="2.8" fill="#f01818"/><ellipse cx="1179.9" cy="1373.9" rx="4.1" ry="2.8" fill="#f01818"/><ellipse cx="1159.3" cy="1388.2" rx="4.1" ry="2.8" fill="#f01818"/><line x1="1126.7" y1="1129.8" x2="1531.2" y2="1129.8" stroke="#000" stroke-width="2.3"/><line x1="1529.2" y1="1128.6" x2="1529.2" y2="1410.5" stroke="#000" stroke-width="3.9"/><line x1="1142.7" y1="1128.6" x2="1142.7" y2="1410.5" stroke="#000" stroke-width="3.9"/><line x1="1126.7" y1="1399.0" x2="1529.2" y2="1399.0" stroke="#000" stroke-width="1.8"/><path d="M1142.7 1393.6H1134.0M1142.7 1388.2H1134.0M1142.7 1382.8H1134.0M1142.7 1377.5H1134.0M1142.7 1372.1H1134.0M1142.7 1366.7H1134.0M1142.7 1361.3H1134.0M1142.7 1355.9H1134.0M1142.7 1350.5H1134.0M1142.7 1339.8H1134.0M1142.7 1334.4H1134.0M1142.7 1329.0H1134.0M1142.7 1323.6H1134.0M1142.7 1318.2H1134.0M1142.7 1312.9H1134.0M1142.7 1307.5H1134.0M1142.7 1302.1H1134.0M1142.7 1296.7H1134.0M1142.7 1285.9H1134.0M1142.7 1280.6H1134.0M1142.7 1275.2H1134.0M1142.7 1269.8H1134.0M1142.7 1264.4H1134.0M1142.7 1259.0H1134.0M1142.7 1253.6H1134.0M1142.7 1248.2H1134.0M1142.7 1242.9H1134.0M1142.7 1232.1H1134.0M1142.7 1226.7H1134.0M1142.7 1221.3H1134.0M1142.7 1215.9H1134.0M1142.7 1210.6H1134.0M1142.7 1205.2H1134.0M1142.7 1199.8H1134.0M1142.7 1194.4H1134.0M1142.7 1189.0H1134.0M1142.7 1178.3H1134.0M1142.7 1172.9H1134.0M1142.7 1167.5H1134.0M1142.7 1162.1H1134.0M1142.7 1156.7H1134.0M1142.7 1151.3H1134.0M1142.7 1146.0H1134.0M1142.7 1140.6H1134.0M1142.7 1135.2H1134.0M1142.7 1345.2H1126.7M1220.0 1399.0V1410.5M1142.7 1291.3H1126.7M1297.3 1399.0V1410.5M1142.7 1237.5H1126.7M1374.6 1399.0V1410.5M1142.7 1183.6H1126.7M1451.9 1399.0V1410.5" stroke="#000" stroke-width="2.0" fill="none"/><path d="M1150.4 1399.0V1404.8M1158.2 1399.0V1404.8M1165.9 1399.0V1404.8M1173.6 1399.0V1404.8M1181.4 1399.0V1404.8M1189.1 1399.0V1404.8M1196.8 1399.0V1404.8M1204.5 1399.0V1404.8M1212.3 1399.0V1404.8M1227.7 1399.0V1404.8M1235.5 1399.0V1404.8M1243.2 1399.0V1404.8M1250.9 1399.0V1404.8M1258.7 1399.0V1404.8M1266.4 1399.0V1404.8M1274.1 1399.0V1404.8M1281.8 1399.0V1404.8M1289.6 1399.0V1404.8M1305.0 1399.0V1404.8M1312.8 1399.0V1404.8M1320.5 1399.0V1404.8M1328.2 1399.0V1404.8M1336.0 1399.0V1404.8M1343.7 1399.0V1404.8M1351.4 1399.0V1404.8M1359.1 1399.0V1404.8M1366.9 1399.0V1404.8M1382.3 1399.0V1404.8M1390.1 1399.0V1404.8M1397.8 1399.0V1404.8M1405.5 1399.0V1404.8M1413.2 1399.0V1404.8M1421.0 1399.0V1404.8M1428.7 1399.0V1404.8M1436.4 1399.0V1404.8M1444.2 1399.0V1404.8M1459.6 1399.0V1404.8M1467.4 1399.0V1404.8M1475.1 1399.0V1404.8M1482.8 1399.0V1404.8M1490.6 1399.0V1404.8M1498.3 1399.0V1404.8M1506.0 1399.0V1404.8M1513.7 1399.0V1404.8M1521.5 1399.0V1404.8" stroke="#000" stroke-width="2.8" fill="none"/><polyline points="1142.7,1399.0 1142.7,1293.7 1155.8,1293.7 1155.8,1255.0 1170.1,1255.0 1170.1,1224.0 1181.7,1220.5 1197.6,1220.5 1197.6,1166.9 1280.7,1166.9 1280.7,1159.7 1293.8,1159.7 1293.8,1153.0 1308.9,1153.0 1308.9,1140.6 1376.5,1140.6 1391.6,1135.7 1529.2,1135.7 1529.2,1129.8" fill="none" stroke="#0000b8" stroke-width="3.6" stroke-linejoin="round" stroke-linecap="round"/><line x1="1297.9" y1="1213.6" x2="1228.5" y2="1180.5" stroke="#ff0000" stroke-width="4.4"/><polygon points="1209.6,1171.4 1234.2,1173.2 1226.5,1189.4" fill="#ff0000"/><text transform="translate(1079.81 1406.73) scale(1.3600 1)" font-size="21.50" font-weight="bold">0.0</text><text transform="translate(1120.77 1432.45) scale(1.3600 1)" font-size="21.50" font-weight="bold">0.0</text><text transform="translate(1079.81 1352.89) scale(1.3600 1)" font-size="21.50" font-weight="bold">0.2</text><text transform="translate(1198.07 1432.45) scale(1.3600 1)" font-size="21.50" font-weight="bold">0.2</text><text transform="translate(1078.64 1299.05) scale(1.3600 1)" font-size="21.50" font-weight="bold">0.4</text><text transform="translate(1274.78 1432.45) scale(1.3600 1)" font-size="21.50" font-weight="bold">0.4</text><text transform="translate(1079.81 1245.21) scale(1.3600 1)" font-size="21.50" font-weight="bold">0.6</text><text transform="translate(1352.67 1432.45) scale(1.3600 1)" font-size="21.50" font-weight="bold">0.6</text><text transform="translate(1079.52 1191.37) scale(1.3600 1)" font-size="21.50" font-weight="bold">0.8</text><text transform="translate(1429.82 1432.45) scale(1.3600 1)" font-size="21.50" font-weight="bold">0.8</text><text transform="translate(1079.81 1137.53) scale(1.3600 1)" font-size="21.50" font-weight="bold">1.0</text><text transform="translate(1506.83 1432.45) scale(1.3600 1)" font-size="21.50" font-weight="bold">1.0</text><text transform="translate(1159.80 1044.70) scale(1.3567 1)" font-size="25.97"><tspan font-weight="bold" font-style="normal">Serum LAIR 2 protein</tspan></text><text transform="translate(1156.24 1068.70) scale(1.3424 1)" font-size="20.97"><tspan font-weight="bold" font-style="normal">Subclinical group Vs control</tspan></text><text transform="translate(1184.85 1093.80) scale(1.4132 1)" font-size="20.14"><tspan font-weight="bold" font-style="italic">(AUC= 0.89, P&lt;0.0001)</tspan></text><text transform="translate(1096.44 1093.40) scale(1.3590 1)" font-size="30.14"><tspan font-weight="bold" font-style="normal">K)</tspan></text><text transform="translate(1062.40 1319.47) rotate(-90) scale(0.7896 1)" font-size="30.68" font-weight="normal" stroke="#000" stroke-width="0.55">Sensitivity</text><text transform="translate(1234.44 1466.60) scale(1.3142 1)" font-size="23.61"><tspan font-weight="bold" font-style="normal">1 - Specificity</tspan></text></g>
</svg>
</body></html>
